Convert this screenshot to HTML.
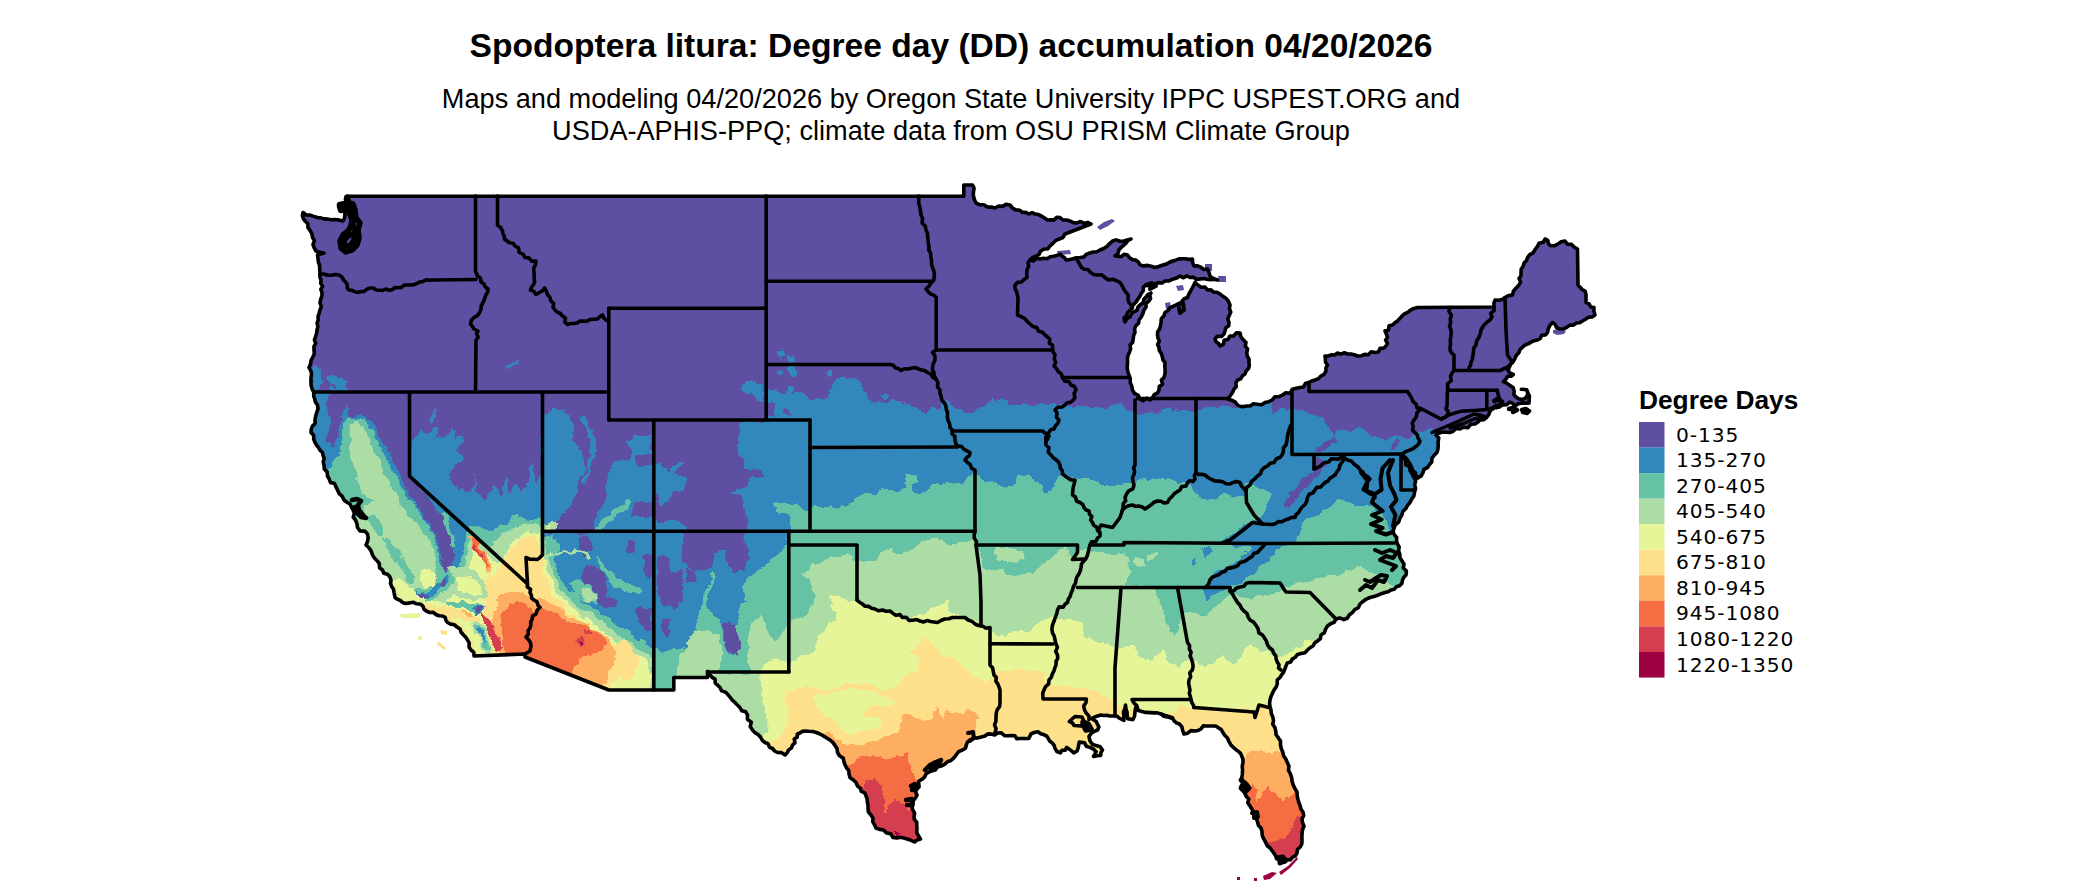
<!DOCTYPE html>
<html><head><meta charset="utf-8"><title>Spodoptera litura: Degree day (DD) accumulation 04/20/2026</title>
<style>
html,body{margin:0;padding:0;background:#fff;}
body{width:2100px;height:892px;overflow:hidden;position:relative;font-family:"Liberation Sans",sans-serif;}
svg{position:absolute;left:0;top:0;}
.t{font-family:"Liberation Sans",sans-serif;fill:#000;}
.l{font-family:"DejaVu Sans","Liberation Sans",sans-serif;fill:#000;}
</style></head><body>
<svg width="2100" height="892" viewBox="0 0 2100 892">
<rect width="2100" height="892" fill="#fff"/>

<defs><clipPath id="land">
<path d="M347,196.3 L963.8,196.3 L963.8,185 L972.5,185 L974.1,188 L973.6,191.4 L973.2,194.7 L973.9,197.9 L975,201 L976,203 L979.6,204.7 L983.7,204.8 L987.2,206.9 L991.2,207.1 L995,208 L998.5,206 L1002.5,206.4 L1006,204.4 L1010,205 L1012.5,208 L1015.6,209.9 L1019.6,210.2 L1022.5,212.5 L1025.7,212.3 L1028.7,214 L1032,212.7 L1035,214 L1038.5,214.6 L1041.7,216.2 L1044.6,218.1 L1047.5,220 L1050.7,219.7 L1054,220.1 L1056.7,217.3 L1060,217.5 L1062.9,220 L1066.6,220 L1070,221 L1073.3,222.7 L1076.9,222.9 L1080.6,221.5 L1083.9,223.4 L1087.7,222.4 L1091,224 L1065,234 L1062.9,237.6 L1059.2,239 L1055.5,240.6 L1052.9,243.4 L1050,246 L1047.7,248.8 L1043.7,249.2 L1040.7,251 L1039,254.6 L1035.8,256.1 L1032.6,257.7 L1030,260 L1033.5,260.9 L1036.6,258.2 L1040,259 L1043.4,258.3 L1047,258.7 L1050.1,256.8 L1053.5,256.3 L1056.9,255.6 L1060,254 L1062,256 L1064.4,257.6 L1066,260 L1069.5,259.6 L1073,258.8 L1076.4,257.7 L1080,257.5 L1083.8,257 L1086.5,254.1 L1090,253 L1093.3,252 L1096.9,251.8 L1100,250 L1103.7,248.5 L1106.9,246.5 L1109.6,243.6 L1112.5,241 L1116.1,239.9 L1120,241.2 L1123.7,241 L1127.4,240 L1131,239 L1128,240.5 L1126,243.2 L1123.5,245.4 L1121,247.5 L1118.8,250.2 L1117.9,253.8 L1115,256 L1118.2,256.3 L1121.3,256.6 L1124.3,254.2 L1127.5,255 L1129.5,257.6 L1132.1,259.5 L1135.7,260.1 L1138.3,261.9 L1140,265 L1143.7,265.9 L1147.6,265.4 L1151.3,266.3 L1155,267.5 L1158.6,266.5 L1162.2,265.3 L1165.8,264.3 L1169.1,262.5 L1172.5,261 L1175.8,260.2 L1179,258.9 L1182.4,258.8 L1185.7,258.7 L1189.2,259.4 L1192.5,259 L1192.6,262.6 L1194,266 L1197.6,265.9 L1200.8,267.2 L1203.8,269.5 L1207.5,269 L1209,272.4 L1210,276 L1212.2,277.9 L1214.8,279 L1217.5,280 L1214,279.3 L1210.5,279.7 L1207,279.3 L1203.5,278.6 L1200,279 L1196.5,279.5 L1193.5,277.1 L1190,277.5 L1186.8,275.9 L1183.1,277.8 L1180,276 L1176.5,278.1 L1172.7,279.2 L1169.1,280.9 L1165,281 L1162,283 L1158.2,282.6 L1155,284 L1152.1,285.5 L1149.1,286 L1146,285 L1143.3,287.1 L1143.3,290.6 L1141.4,293.2 L1140,296 L1138.1,298.7 L1136.4,301.5 L1134.1,304 L1132,306.5 L1130.8,309.9 L1127.8,312.1 L1126.6,315.6 L1124,318 L1125,322 L1126.7,318.7 L1130,317 L1131.3,314 L1133.8,311.8 L1137,310.3 L1138,307 L1140.2,304.7 L1143.1,302.9 L1143.8,299.3 L1146,297 L1148.1,294.4 L1151,293 L1149.7,295.5 L1150.6,298.6 L1149,301 L1146,303.3 L1146,307.2 L1144,310 L1142.9,313.6 L1141.3,317 L1139,320 L1138.6,323.3 L1135.8,325.9 L1134.6,328.9 L1135,332.5 L1133.6,335.6 L1133.2,339 L1132.6,342.4 L1130,345 L1130.6,349 L1129.3,352.6 L1127.7,356.2 L1127.5,360 L1127.5,363.8 L1127.2,367.6 L1127.7,371.3 L1129,375 L1130.3,378.6 L1130.2,382.6 L1131.8,386.2 L1132.5,390 L1134.5,393.4 L1138.2,395.4 L1140,399 L1143.2,400.8 L1146.8,398.2 L1150,400 L1152.5,397.7 L1154.2,394.7 L1157.4,393.1 L1159,390 L1159.3,386.5 L1162.6,384.2 L1161.4,380.1 L1164,377.5 L1165,373.8 L1165.1,370 L1164.8,366.3 L1165,362.5 L1162.9,359.9 L1162.3,356.6 L1161.3,353.6 L1159.4,350.8 L1159,347.5 L1157.6,344.5 L1159.3,341.1 L1158,338.1 L1157.5,335 L1157.7,331.7 L1159.6,328.9 L1160.5,325.7 L1161,322.5 L1161.3,318.8 L1163.9,315.9 L1165,312.5 L1167.9,310.8 L1169.8,307.8 L1172.9,306.4 L1176,305 L1179.5,304 L1181.9,301.4 L1184.2,298.7 L1187.5,297.5 L1188.9,294 L1190.7,290.8 L1192.5,287.5 L1195,282.5 L1197.8,284.9 L1200.7,287.2 L1205,287.1 L1207.5,290 L1211,289.9 L1213.6,292.2 L1217,292.3 L1219.9,293.8 L1222.5,296 L1225.9,298.2 L1228.4,301.2 L1230,305 L1229.4,308.5 L1230.8,312.1 L1229.2,315.5 L1227.8,318.9 L1229,322.5 L1228.7,325.8 L1225.8,327.9 L1225,331 L1224,334 L1221.5,336.5 L1217.3,336.2 L1215,339 L1216.1,341.7 L1218.6,343.5 L1220,346 L1223.3,344.3 L1224.2,340.2 L1228.2,339.2 L1230,336 L1233.6,336 L1236.3,332.9 L1240,333 L1240.9,336.8 L1243.3,339.8 L1246,342.5 L1245.3,346 L1247.6,349.1 L1246.8,352.6 L1247.2,356 L1249,359.1 L1249,362.5 L1249.3,365.8 L1248.4,368.7 L1246,371.1 L1245,374 L1242.4,375.9 L1240.7,378.9 L1237.5,380 L1235.9,383 L1236.2,386.7 L1233.8,389.4 L1232.5,392.5 L1230.2,395.7 L1228,399 L1231.6,400.2 L1235.1,401.9 L1237.5,405 L1240.5,406.5 L1243.7,406.6 L1246.9,406 L1250,406 L1253.4,403.8 L1257.5,404.3 L1261.6,404.7 L1265,402.5 L1268.8,401.7 L1272.2,400 L1275,396.7 L1279.1,396.7 L1282.5,395 L1285.7,392.8 L1290.1,393.3 L1292.4,389.2 L1296.2,388.2 L1300,387.5 L1303.5,387 L1305.5,383.5 L1308.7,382.5 L1311.7,381 L1315,380 L1318.5,378.6 L1320.9,376 L1324.1,374.3 L1326,371 L1325.9,367.8 L1327.5,365 L1325.5,362.3 L1325.4,359.1 L1325,356 L1328.3,356 L1331.3,354.8 L1334.7,355 L1337.5,353 L1340.7,354.1 L1344.4,352.8 L1347.6,354 L1351,354.1 L1354.3,354.8 L1357.5,356 L1361.1,355.8 L1364.5,354.4 L1368.2,354.7 L1371.2,351.8 L1375,352.5 L1378.4,351.9 L1380,348.4 L1383.6,348.3 L1386,346 L1387.5,343.3 L1385.6,340.1 L1387.5,337.5 L1386.4,334.2 L1385,331 L1388.4,330.1 L1389.1,325.8 L1392.5,325 L1394.9,322.8 L1397.5,321 L1399.8,318.6 L1401.9,316.1 L1404.4,313.9 L1407.5,312.5 L1410.5,310.2 L1413.8,308.4 L1417.5,307.5 L1494,307 L1493.9,303.4 L1495,300 L1498.6,300.3 L1502,299.6 L1505,297.5 L1508.5,295.6 L1512.5,295 L1513.5,290.9 L1516.2,288 L1519,285 L1520.6,282 L1519,278.6 L1521,275.7 L1521,272.5 L1521.2,269 L1523.2,266.3 L1524,263.1 L1526.5,260.6 L1527.5,257.5 L1529.7,254.6 L1533.1,252.8 L1535,249.6 L1537.3,246.7 L1539,243.3 L1543.2,242.3 L1545,239 L1547.8,240.3 L1548.3,243.3 L1550,245.5 L1554.2,245.8 L1557.8,244.1 L1561.1,241.7 L1565,241 L1567.4,244.1 L1571.6,244.4 L1574.2,247.2 L1577.5,249 L1578,285 L1580.2,287.2 L1582.2,289.5 L1585,291 L1586,294.8 L1586,298.6 L1586,302.5 L1588.9,303.7 L1590.7,306.9 L1594,307.5 L1593.8,311.3 L1595,315 L1592.1,316.9 L1588.4,317.3 L1585.5,319.2 L1582.5,321 L1579.6,322.7 L1576.3,323 L1573.5,325.1 L1570,325 L1567,327.1 L1563.8,328.8 L1560,329 L1556.7,327.8 L1555.2,324.4 L1552.5,322.5 L1549.9,325.4 L1548.3,328.7 L1547.5,332.5 L1545.5,335 L1541.7,335.2 L1540.3,338.5 L1537.5,340 L1534.2,340.7 L1531.1,342.2 L1528.2,343.8 L1525,345 L1522.6,347.1 L1520.1,349.3 L1519,352.5 L1516.3,355.5 L1514.6,359.2 L1512.5,362.5 L1509.8,364.7 L1509,368 L1508,370.5 L1510.2,373.1 L1513.3,374.5 L1511.1,376.3 L1507.7,376.3 L1506,379 L1503.4,381.7 L1506.7,383.2 L1509.7,385.2 L1513.1,387.5 L1514.2,391.5 L1513.8,394.6 L1516,396.9 L1518.7,398.7 L1522.4,399.6 L1525.8,397.8 L1528,394 L1526.7,389.7 L1521.3,389.3 L1526.7,389.7 L1528,392.9 L1529.4,396 L1529,403.2 L1522,403 L1518.2,403.8 L1515,405.9 L1512.7,403.5 L1509.7,402 L1507.1,404.6 L1503.4,405 L1499.6,404.6 L1496,406 L1493.3,408.6 L1490.1,410.9 L1488.8,414.7 L1486.4,417.5 L1483.9,419.7 L1480.3,420 L1477.8,422.2 L1475,424 L1470.9,424.2 L1467.9,427.8 L1463.6,427.2 L1460,429 L1456.1,428.5 L1452.9,431.4 L1449.2,432.5 L1445.3,432 L1441.6,432.3 L1438,433.5 L1436,435 L1438.8,438 L1438.1,441.6 L1438.2,445.3 L1438,449 L1436.9,452.5 L1434.3,455.2 L1432,458.1 L1431.7,462 L1429.5,464.6 L1427.6,467.5 L1424.1,469.1 L1423,472.6 L1421.1,476 L1417.8,478 L1416.2,475.4 L1415.1,472.4 L1412.5,470.5 L1411.6,467 L1409.9,463.9 L1408.1,460.9 L1406,458 L1402.5,455 L1404,458 L1405.6,461.1 L1405.7,464.9 L1409.8,466.7 L1410,470.5 L1412.1,473.9 L1413.9,477.4 L1415.7,481 L1414.7,484.6 L1415.6,488.4 L1414.6,492 L1413.9,495.9 L1411.7,499.1 L1410,502.5 L1407.6,505.4 L1405.8,508.7 L1402.9,511.3 L1401.8,515 L1399.9,518.3 L1398.7,522 L1395.6,524.5 L1394,528 L1393,532 L1394.5,534.9 L1396.7,537.5 L1396.5,541 L1397.6,544.1 L1399.2,547.1 L1398.5,550.6 L1399.7,553.7 L1400,557.6 L1401.9,560.8 L1404,564 L1403.3,567.9 L1406.4,571.1 L1406,575 L1403.7,577.4 L1402.5,580.3 L1401.8,583.5 L1399.5,585.8 L1396.4,586.8 L1394.2,589.2 L1391,590 L1388.2,591.8 L1385,592.5 L1381.2,593.7 L1377.6,595.3 L1373.9,596.6 L1370,597.5 L1366.3,599.1 L1363,601.4 L1360,604 L1358.4,607.6 L1354.8,609.5 L1352.5,612.5 L1349.4,614.7 L1347.5,618 L1343.8,619.7 L1339.8,617.9 L1336,619 L1334.1,622.4 L1330.5,623.8 L1327.5,626 L1325.6,629.2 L1324.3,632.8 L1321,635 L1320.4,638.6 L1317.5,641 L1314.7,642.9 L1313,646 L1310,647.7 L1307.5,650 L1304.9,652.7 L1301.1,653.5 L1297.5,654.5 L1295,657.5 L1292.2,659.1 L1290.8,662 L1287.3,662.9 L1286,666 L1284.9,669.1 L1283.6,672.1 L1281.7,674.7 L1280,677.5 L1277.2,680 L1277.3,683.9 L1276.1,687.1 L1274,690 L1272.5,693.3 L1271,696.5 L1270,700 L1269.6,703.4 L1270,706.7 L1271,710 L1271.3,713.6 L1272.8,716.9 L1273.5,720.5 L1272.7,724.3 L1274.9,727.5 L1275.7,731 L1276.1,734.8 L1278.4,737.9 L1280.5,741.1 L1280.5,745 L1281.3,748.7 L1282.8,752.1 L1283.6,755.7 L1285.8,759 L1287.3,762.6 L1288.9,766.1 L1288.5,770.4 L1290.4,773.8 L1291.6,777.5 L1292.1,781.4 L1293.3,785.1 L1295,788.6 L1297,792 L1297.2,795.6 L1297.8,799 L1298.8,802.4 L1300.1,805.6 L1300.9,809 L1303,812 L1303.7,815.5 L1302,819.1 L1302.6,822.6 L1304,826 L1302.6,829.5 L1302.1,833.1 L1301.9,836.7 L1302,840.4 L1301.8,844 L1300.2,847 L1297.5,849.4 L1297,853 L1295.3,855.8 L1292.3,857.4 L1290.4,860 L1287.1,859.4 L1284.6,862 L1281.4,862 L1278.3,859.9 L1276.4,856.9 L1274.4,853.9 L1272.3,851 L1270.1,848 L1267.1,845.5 L1265.5,842 L1263.6,838.7 L1262.2,835.3 L1262,831.5 L1261,828 L1258.5,825.5 L1257.6,822.2 L1256.5,819 L1253.9,816.1 L1253.5,812.1 L1251.7,808.7 L1249.7,805.5 L1247.8,802.8 L1248.8,799 L1246.3,796.5 L1244.8,793 L1245.6,788.9 L1243,785.7 L1242.8,781.9 L1241.7,778.3 L1242.3,774.4 L1242.6,770.4 L1242.2,766.4 L1243,762.5 L1243,759.2 L1241.8,756.3 L1240.6,753.4 L1238.4,751.4 L1236,749.7 L1233.8,747.8 L1231,745.1 L1229,741.7 L1227.5,738 L1224.7,735.3 L1222.9,732.5 L1221.3,729.6 L1218.4,727.8 L1215.7,726 L1206.6,726 L1203.1,725.9 L1201,729 L1198.2,730.4 L1195,731 L1190.9,730.6 L1187.7,733.2 L1184,734 L1182.7,730.6 L1181.9,726.9 L1179.4,724 L1176.4,722.8 L1174.1,720.9 L1172.6,718 L1169.7,717.1 L1166.5,716.8 L1163.5,716.2 L1161,714 L1157.4,712.9 L1153.7,712.9 L1150,712.6 L1145.6,712.4 L1142,711.6 L1138.4,710.6 L1136.6,705.5 L1135.4,708.7 L1135,712 L1134.6,715.9 L1133,719.6 L1127.6,718.7 L1127,712 L1125.9,708.6 L1125.5,705 L1125,708.6 L1123.5,712 L1124,720.5 L1119,718 L1116.9,716 L1109.7,716 L1106.7,715.2 L1103.7,715.5 L1100.7,715 L1097.6,715.9 L1094.6,717.2 L1091.7,718.5 L1096.2,721.4 L1097.4,724.2 L1098.9,726.8 L1097.6,730 L1094.4,731.3 L1091.1,733.4 L1089,736.6 L1090,741 L1092.4,744.3 L1096.2,745.6 L1100.1,746.7 L1102.5,750 L1100.9,752.5 L1100.7,755.5 L1097.1,755.7 L1093.5,756.4 L1096.2,751.9 L1093.5,749.1 L1090,747.4 L1086.4,746.3 L1084.6,742.9 L1079.2,742 L1078.3,747.4 L1077.1,751 L1073.8,752.8 L1071.5,750.9 L1069.1,749.1 L1066.6,747.4 L1065.3,750.1 L1061.9,750.4 L1060.4,752.8 L1056.9,751.5 L1055,748.3 L1054.1,745.2 L1052.1,742.9 L1049.6,741 L1048.3,738.5 L1046.8,736.2 L1044.2,734.8 L1040.8,733.8 L1037.9,731.7 L1034.2,732.5 L1030.8,734 L1029,738.4 L1020,738.5 L1016.8,738.8 L1014.9,735.8 L1012,735.5 L1008.2,735.8 L1004.5,735.6 L1001.3,732.9 L997.5,733 L994.7,735 L991.1,734.1 L987.8,733.9 L985,736 L981.2,736.9 L977.5,737.9 L973.5,738.2 L970,740 L967.5,742.1 L966.3,745 L965.5,748.3 L962.5,750 L958.6,751.6 L956.3,754.7 L953.9,757.9 L951,760.5 L947.4,761.7 L944.6,764.4 L941.2,766.1 L937.5,767 L935.3,769.9 L931.9,770.8 L928.8,772.1 L926,774 L924.5,777.2 L922,779.3 L919,781 L918.7,783.7 L919.1,786.7 L917,789 L915.6,791.8 L917,795.2 L915.5,798 L913.2,800.9 L913,804.6 L912,808 L913.2,810.7 L914.6,813.4 L914,816.5 L914.4,819.6 L916.8,822.2 L916.7,825.4 L917,828.5 L916.7,832.5 L918.4,835.8 L920.5,839 L917.2,839.9 L914.5,842 L912.1,840.8 L909.6,839.7 L907,839 L903.7,837.9 L900.4,837.2 L897,838 L893,837.4 L890.5,833.6 L886.5,833 L883.6,830 L879.6,829.4 L876,828 L874.5,824.8 L872.7,821.7 L873,818 L870.9,814.9 L868.4,812 L868,808 L868,804.9 L867.3,802 L867.2,798.9 L866,796 L864.7,792.8 L861.3,791.4 L860.2,788 L857.5,786 L856,782.6 L853.4,779.9 L850.1,777.8 L849,774 L848.8,770.6 L846.6,767.9 L845.2,765 L844,762 L843.2,758.1 L839.5,755.8 L837.5,752.5 L837,748.5 L835,745.4 L832.8,742.4 L830,740 L826.7,737.9 L823.4,735.9 L820,734 L816.4,732.5 L812.7,731.5 L808.8,731.3 L805,731 L802.2,731.4 L800,733 L797.5,734 L797.2,737.2 L794.2,739.1 L795,742.8 L792.5,745 L791.4,748.1 L788.6,749.9 L787.2,752.7 L785,755 L781.6,752.6 L777.5,752.5 L774.6,751 L772.5,748.5 L769.4,747.2 L768.1,743.7 L765,742.5 L762.2,740.3 L760.5,737 L758,734.5 L754.9,732.6 L752.5,730 L750.2,726.6 L751.3,722.1 L747.4,719.2 L747.5,715 L745.7,711.8 L741.8,710.7 L739.9,707.6 L737.4,705.1 L735,702.5 L732.3,700.2 L730.2,697.3 L727.9,694.6 L725.4,692.1 L721.6,690.9 L720,687.5 L717.7,685.2 L715.3,683.1 L715.1,679.1 L712.1,677.4 L710,675 L707.5,671.5 L707.5,677.5 L673.8,677.5 L673.8,690 L608.8,690 L525,657 L525,654 L474,656 L473.8,652.3 L471,650 L469,647 L469.2,643.1 L467.5,640 L465.7,637.2 L463.3,634.8 L461.1,632.3 L460,629 L457,627.1 L454.3,624.7 L450.6,624.1 L447.5,622.5 L445.9,620.3 L445.2,617.4 L442.5,616 L439.2,615.8 L436.1,614.7 L433.4,612.3 L430,612.5 L426.7,611.3 L424.1,609.3 L422.8,605.8 L420,604 L416.5,603.8 L413.1,602.2 L409.5,602.9 L405.9,603.5 L402.5,602.5 L400.3,600.4 L397.4,599.3 L395,597.5 L394,592.5 L393.6,589.3 L391.6,586.5 L390.5,583.4 L391,580 L389.8,576.7 L387.5,574.3 L383.8,573.2 L382.5,570 L379.5,567.7 L379.3,563.5 L377,560.7 L374.4,558.1 L372.5,555 L371.2,551.1 L369,547.8 L366,545 L367.5,541.5 L368.2,537.8 L367.5,534 L364.7,531.1 L360,530.9 L357.5,527.5 L356.9,523.6 L355.5,520 L353.2,517.2 L354.4,513.2 L353.1,510.1 L351.4,507.1 L350,504 L346.9,502.2 L344,500 L342.3,496.4 L339.2,493.7 L337.5,490 L336,486.9 L334.6,483.6 L330.4,482.4 L329.2,479 L327.5,476 L327.2,472.1 L324.3,469 L324,465 L323.2,461.9 L324.2,458.6 L323.1,455.6 L322.5,452.5 L320.1,450.4 L318.5,447.7 L316.5,445.2 L315,442.5 L313.7,439.2 L313.7,435.3 L311,432.5 L311.3,429.1 L312.5,426.1 L315.1,423.5 L315,420 L315.6,416.2 L316.7,412.6 L318,408.9 L317.5,405 L315.4,402.2 L314.7,399 L313.7,395.9 L313.8,392.5 L312.1,388.9 L311.1,385.2 L310.9,381.4 L311,377.5 L311.6,373.9 L310.8,370.6 L309,367.5 L310.5,364.2 L311,360.5 L312.7,357.2 L314.3,353.9 L314,350 L313.9,346.6 L315.7,343.4 L314.4,339.8 L315.6,336.6 L316.6,333.3 L317,330 L317.9,326.7 L317.1,323.2 L318.2,320 L318,316.5 L319.1,313.3 L320,310 L321.3,306.6 L320,302.9 L320.7,299.4 L321.9,296 L322,292.5 L320.8,289.4 L322.6,286.2 L320.7,283.2 L321,280 L319.9,277.1 L320,274 L319.5,265 L318.3,261.8 L318,258.4 L317.5,255 L320.7,253.9 L324,253 L321.3,252.6 L318.6,251.9 L316,251 L314.2,247.9 L313,244.6 L314.4,240.6 L312.5,237.5 L311.9,233.8 L310.2,230.6 L308,227.6 L307.8,223.7 L305,221 L303.3,218.4 L302.4,215.6 L303,212.5 L306.2,215 L310.2,215.1 L313.8,216.4 L317.4,217.5 L320.8,217.9 L324.1,218.9 L327.4,219.1 L330.8,219.8 L334.2,219.5 L337.6,219.8 L343,221 L344.5,218.2 L344.8,215.1 L345,212 L343.8,208.4 L341,206 L344,204.6 L346,202 L345.4,199Z"/>
</clipPath><filter id="rough" filterUnits="userSpaceOnUse" x="240" y="150" width="1420" height="742" color-interpolation-filters="sRGB"><feTurbulence type="fractalNoise" baseFrequency="0.09" numOctaves="3" seed="7" result="n"/><feDisplacementMap in="SourceGraphic" in2="n" scale="9" xChannelSelector="R" yChannelSelector="G"/></filter></defs>
<g clip-path="url(#land)"><g filter="url(#rough)" shape-rendering="crispEdges">
<rect x="200" y="100" width="1500" height="800" fill="#5E4FA2"/>
<path d="M250,392 L352,392 L346,405 L348,417 L360,416 L370,420 L377,431 L386,448 L395,463 L402,478 L411,495 L420,510 L428,523 L436,535 L441,550 L445,563 L447,574 L456,560 L453,545 L447,530 L441,514 L425,496 L411,478 L411,450 L413,438 L420,430 L428,433 L433,427 L440,430 L438,440 L446,436 L452,427 L456,430 L452,440 L460,436 L464,440 L458,450 L462,458 L455,466 L450,474 L454,486 L463,490 L472,493 L473.5,476 L476,492 L484,500 L490,490 L495,487 L500,497 L506,477 L509,493 L516.6,482.5 L520,492 L525.6,486 L532.7,461 L536,485 L541.7,472 L543,413 L553,409 L571,413 L573,440 L585,456 L583,472 L578,488 L571,502 L562,517 L553,524 L548,533 L594,533 L596,520 L600,508 L608,497 L607,480 L612,465 L620,460 L630,462 L632,450 L628,440 L636,436 L651,436 L653,454 L636,455 L637,466 L653,466 L656,462 L668,470 L679,461 L681,464 L672,473 L687,478 L686,490 L672,492 L667,503 L658,504 L656,492 L653,495 L653,503 L633,503 L632,517 L653,517 L655,521 L680,521 L687,531 L681,545 L682,560 L690,569 L705,570 L714,566 L715,552 L724,551 L726,566 L733,573 L745,572 L748,560 L745,539 L746.6,530 L748.4,521 L744.8,510.4 L743,499.7 L730.5,492.5 L746.6,487 L748.4,478 L762.8,476.4 L761,471 L744.8,467.4 L737.7,445.9 L737.7,424.3 L737.5,422 L766,421 L766,417 L775,417 L775,404 L767,403 L767,389 L776,390 L785,393.5 L789,386 L793.5,387 L792.5,392.5 L802.5,392.5 L809.5,400.5 L818.5,398.5 L826.5,399.5 L829,390 L834.5,382.5 L842.5,376.5 L854,379 L861,382.5 L862,387 L869,393.5 L870,398.5 L878,403 L890.5,400.5 L903,403 L912.5,405 L919.5,411 L926,413 L930.5,408.5 L940,407.5 L942,400.5 L947,399.3 L958.6,409.3 L970,413.6 L977,408 L990,402 L1004.3,398.6 L1014.3,405 L1028.6,407 L1040,404.3 L1054.3,403.6 L1068.6,405.7 L1077,404.3 L1090,407 L1104.3,407 L1118.6,403.6 L1125.7,409.3 L1134.3,412 L1145.7,416.4 L1157,410.7 L1165.7,408.6 L1183,411.4 L1197,410.7 L1208.6,408.6 L1220,406.4 L1233,405.7 L1240,407 L1245,400 L1265,395 L1272,398 L1274,414 L1280,408 L1286,412 L1292,406 L1294,407.7 L1308,414 L1321.8,417.3 L1329.2,422.6 L1332.4,432.2 L1334.5,437.5 L1338.8,432 L1345,430 L1358,428 L1366.5,432 L1377,436.4 L1385.7,440.7 L1393,436.4 L1401.6,437.5 L1411,437.5 L1419.7,433 L1426,428 L1432.5,427 L1434,429 L1445,445 L1700,445 L1700,900 L250,900Z" fill="#3288BD"/>
<path d="M330,392 L352,392 L346,405 L342,417 L338,432 L334,448 L328,440 L330,420 L326,405Z" fill="#5E4FA2"/>
<path d="M578,536 L588,534 L591,548 L586,558 L580,552Z" fill="#5E4FA2"/>
<path d="M583,566 L592,564 L600,570 L606,580 L606,594 L612,598 L619,604 L614,608 L602,606 L594,598 L586,588 L582,576Z" fill="#5E4FA2"/>
<path d="M626,541 L636,541 L637,552 L628,553Z" fill="#5E4FA2"/>
<path d="M642,555 L652,556 L652,577 L645,575Z" fill="#5E4FA2"/>
<path d="M635,610 L645,608 L653,610 L653,632 L644,630 L637,622Z" fill="#5E4FA2"/>
<path d="M657,556 L662,553 L668,560 L672,570 L682,572 L683,590 L680,604 L672,610 L664,606 L659,596 L657,580Z" fill="#5E4FA2"/>
<path d="M685,570 L694,570 L695,580 L687,583Z" fill="#5E4FA2"/>
<path d="M661,620 L670,620 L672,634 L664,638 L661,630Z" fill="#5E4FA2"/>
<path d="M723,622 L735,624 L740,640 L738,655 L728,652 L724,638Z" fill="#5E4FA2"/>
<path d="M1285,503 L1292,492 L1302,480 L1312,470 L1320,466 L1321,470 L1312,480 L1302,492 L1292,503 L1286,507Z" fill="#5E4FA2"/>
<path d="M1317,452 L1324,442 L1332,437 L1335,440 L1328,447 L1321,454Z" fill="#5E4FA2"/>
<path d="M1391,450 L1395,441 L1399,441 L1396,450Z" fill="#5E4FA2"/>
<path d="M1313,458 L1322,458 L1326,466 L1320,474 L1314,470Z" fill="#5E4FA2"/>
<path d="M311,367 L316,365 L320,370 L322,380 L318,392 L312,392Z" fill="#3288BD"/>
<path d="M326,378 L334,374 L342,378 L348,384 L340,388 L332,386Z" fill="#3288BD"/>
<path d="M330,388 L345,386 L352,392 L330,392Z" fill="#3288BD"/>
<path d="M580,418 L584,416 L597,438 L594,455 L590,470 L586,486 L582,484 L586,468 L590,452 L591,440Z" fill="#3288BD"/>
<path d="M428,420 L432,412 L438,409 L436,416 L432,424Z" fill="#3288BD"/>
<path d="M507,364 L517,363 L517,366 L508,367Z" fill="#3288BD"/>
<path d="M740,390 L745,383 L755,383 L762,386 L765,400 L758,400 L750,394 L744,392Z" fill="#3288BD"/>
<path d="M829,371 L833,371 L833,376 L829,376Z" fill="#3288BD"/>
<path d="M880,394 L886,392 L889,397 L884,400Z" fill="#3288BD"/>
<path d="M783,410 L789,410 L789,415 L783,415Z" fill="#5E4FA2"/>
<path d="M777,352 L782,350 L784,355 L779,357Z" fill="#3288BD"/>
<path d="M786,356 L795,354 L797,360 L790,362Z" fill="#3288BD"/>
<path d="M779,370 L784,368 L785,374 L780,375Z" fill="#3288BD"/>
<path d="M788,366 L794,365 L795,374 L789,375Z" fill="#3288BD"/>
<path d="M250,470 L327,470 L332,465 L340,450 L342,430 L347,417 L365,420 L374,433 L383,451 L392,468 L399,481 L411,501 L423,518 L433,533 L438,550 L441,565 L446,578 L458,572 L462,555 L466,535 L468,524 L480.7,527 L493,532.7 L500,525.6 L507.6,522 L516.6,513 L525.6,522 L536,518 L541.7,522 L543,535 L548.7,541 L556,566 L565,587 L579,598 L595,607 L610,620 L624,630 L642,641 L653,647 L655,648 L667,652 L685,645 L693,640 L697,625 L700,607 L708,590 L712,571 L714.6,573 L711,589 L707.4,607 L712.8,616 L721.7,623 L723.5,637.6 L727,653.8 L737.9,655.6 L739.7,641 L736,627 L737.9,614 L745,601.7 L741.5,587.4 L750,576.6 L764.8,566 L775.6,557 L787,546 L789,533 L791.5,528 L790,516 L777,512 L773.5,503 L784.3,501.5 L797,505 L807.6,510.4 L817,506.4 L837,508 L851.4,505 L855.7,496.4 L873,492 L884.3,489.3 L897,493.6 L905.7,486.4 L904.3,473.6 L917,473.6 L920,480.7 L913,486 L911.4,492 L925.7,493.6 L931.4,485 L944.3,482 L958.6,483.6 L971.4,476.4 L977,473.6 L985.7,479.3 L1003,486.4 L1015.7,483.6 L1018.6,475 L1028.6,475 L1037,483.6 L1045.7,492 L1051.4,488 L1057,479.3 L1064.3,475 L1077,479.3 L1088.6,479.3 L1103,485 L1114.3,486.4 L1124.3,483.6 L1135.7,482 L1145.7,478 L1160,480.7 L1174.3,476.4 L1180,482 L1188.6,485 L1194.3,490.7 L1203,498 L1214.3,499.3 L1224.3,495 L1234.3,498 L1243,495 L1245.6,483.5 L1260.7,486.9 L1270.8,495 L1267.5,507 L1260.7,517 L1254,518.8 L1244,525.6 L1235.5,534 L1222,540.7 L1213.6,544 L1235,545 L1250.7,549 L1238.9,559 L1227,567.6 L1213.6,576 L1207,582.8 L1201.9,589.5 L1205,599.6 L1213.6,596 L1222,589.5 L1230.5,584.4 L1244,581 L1254,574 L1264,564 L1270.8,555.8 L1281,549 L1294.4,542.4 L1301,532 L1304.5,522 L1314.6,517 L1328,508.7 L1338,500 L1348,502 L1360,505 L1365,505 L1375,510 L1383,515 L1390,532 L1420,532 L1700,532 L1700,900 L250,900Z" fill="#66C2A5"/>
<path d="M441,560 L451,560 L452,574 L444,573Z" fill="#5E4FA2"/>
<path d="M594,529 L602,520 L612,512 L622,505 L628,501 L631,505 L624,511 L614,518 L604,527 L598,532Z" fill="#66C2A5"/>
<path d="M597,557 L606,566 L617,578 L629,582 L642,591 L638,596 L624,591 L610,582 L601,570Z" fill="#66C2A5"/>
<path d="M569,583 L578,580 L590,586 L598,596 L594,603 L584,600 L574,594Z" fill="#66C2A5"/>
<path d="M543,536 L552,534 L558,545 L556,560 L550,565 L544,560Z" fill="#66C2A5"/>
<path d="M350,436 L352,428 L353.8,421 L358,420 L364.6,428 L371.7,444 L377,456.7 L382.5,469.3 L389.7,485.4 L396.9,496.2 L405.8,510.6 L416.6,525 L429,539 L434,552 L437,565 L432.5,575 L427,582 L440,590 L455,592 L460,580 L465,565 L468,548 L472,535 L480,540 L492,548 L500,536 L511,529 L522,525.6 L532.7,524 L541,526 L543,533 L546,548 L552,570 L561,590 L576,604 L592,613 L607,626 L621,637 L638,648 L652,655 L654,692 L678,692 L678.7,656 L686,645 L693,634 L698,630 L709,630 L716,634 L722,647 L722,659 L718,673 L750,673 L748,650 L750,625 L761,616 L768,630 L776,641 L786,630 L791.4,619.6 L806.7,612 L814,602 L810.5,579.6 L799,574 L814,564 L829.6,558.6 L844.8,554.8 L854.4,558.6 L875,560.5 L886.8,549 L902,554.8 L913.5,551 L921,541.4 L940,539.5 L951.6,545 L963,541.4 L974.5,539.5 L980,550 L980,563 L984,570 L1000,570 L1016,575.3 L1032,572.7 L1042.7,564.7 L1053.3,556.7 L1058.7,550 L1066,548 L1068,558 L1076,558 L1078,548 L1090,547 L1092,552.7 L1122.7,554 L1130.7,562 L1128,574 L1125.3,584.7 L1140,586 L1155,587 L1160,600 L1165,620 L1172,637 L1180,630 L1182,612 L1190,612 L1205,615 L1215,608 L1225,600 L1232,595 L1245,597 L1262,596 L1280,590 L1300,582.5 L1317.5,579 L1335,575 L1350,570 L1362.5,566 L1375,572.5 L1390,585 L1400,586 L1420,586 L1700,586 L1700,900 L250,900 L250,520 L357,520 L366,508 L371.7,501.6 L362.8,492.6 L357.4,482 L353.8,471 L352,460 L350,444Z" fill="#ABDDA4"/>
<path d="M700,900 L757,745 L765,735 L770,725 L765,715 L762,700 L760,680 L758,672 L762,665 L775,660 L790,662 L797,657 L815,652 L820,637 L825,627 L835,620 L832,605 L830,595 L840,597 L855,602 L865,607 L890,612 L907,617 L925,612 L940,605 L950,600 L950,610 L962,617 L980,622 L990,630 L1002,635 L1015,632 L1030,630 L1040,620 L1052,615 L1057.3,619.3 L1073.3,619.3 L1084,624.7 L1084,632.7 L1096,642 L1113.3,646 L1122.7,648.7 L1133.3,644.7 L1140,658 L1150.7,660.7 L1162.7,651.3 L1170.7,662 L1177.3,667.3 L1186.7,662 L1194.7,658 L1204,667.3 L1213.3,662 L1224,655.3 L1233.3,663.3 L1240,655.3 L1248,644.7 L1258.7,650 L1269.3,654 L1277.3,656.7 L1286.7,655.3 L1298.7,647.3 L1306.7,642 L1320,640 L1700,645 L1700,900Z" fill="#E6F598"/>
<path d="M390,598 L400,594 L412,598 L430,600 L445,603 L455,595 L465,580 L472,560 L475,545 L485,552 L497,565 L507,550 L515,537 L527,532 L541,535 L543,552 L548,572 L556,592 L571,607 L587,618 L602,630 L616,642 L632,653 L648,662 L652,675 L648,692 L600,700 L470,665 L380,610Z" fill="#E6F598"/>
<path d="M543,524 L552,521 L560,524 L556,531 L543,531Z" fill="#ABDDA4"/>
<path d="M543,527 L550,525 L553,531 L543,531Z" fill="#E6F598"/>
<path d="M760,900 L765,748 L770,742 L780,738 L787,728 L790,715 L785,700 L787.3,690 L804.8,687 L820,690 L838,688 L845.6,684 L867.5,684 L885,690 L896.6,688.3 L901,679.6 L914,673.7 L920,659 L911,652 L920,641.7 L927,635.8 L934.5,647.5 L943,657.7 L955,657.7 L963.6,668 L975.3,678 L988.4,682.5 L994,670.8 L1006,669.4 L1027.8,670.8 L1042.4,672.3 L1045,680 L1052,687 L1065,686 L1077,688 L1090,690 L1102,694 L1112,700 L1118,707 L1125,710 L1140,711 L1160,711 L1172,714 L1180,705 L1195,710 L1215,710 L1227,712 L1240,708 L1252,710 L1260,708 L1275,705 L1700,705 L1700,900Z" fill="#FEE08B"/>
<path d="M415,600 L430,606 L445,612 L455,622 L465,632 L472,645 L480,655 L470,660 L455,635 L440,620 L420,610Z" fill="#FEE08B"/>
<path d="M488,572 L496,580 L500,565 L512,545 L520,537 L535,535 L541,545 L543,566 L547,584 L554,598 L569,612 L585,623 L600,634 L612,645 L622,655 L622,670 L615,680 L607,690 L560,675 L525,660 L495,655 L490,640 L486,622 L484,608 L486,596Z" fill="#FEE08B"/>
<path d="M612,645 L625,640 L637,655 L636,675 L625,682 L614,670Z" fill="#FEE08B"/>
<path d="M813.5,694 L838.3,691 L861.6,688.3 L882,694 L895,701.4 L882,705.8 L867.5,708.7 L861.6,716 L880.6,717.5 L879,726 L861.6,732 L848.5,735 L838.3,723.3 L823.7,716 L816.4,705.8Z" fill="#E6F598"/>
<path d="M830,900 L795,748 L794.6,735 L805,733 L822,734 L828,732 L841,743.7 L855.8,745 L874.7,742 L890.8,735 L901,729 L901,716 L911,714.5 L922.8,720.4 L933,717.5 L934.5,708.7 L943,717.5 L947.6,710 L962,714.5 L968,708.7 L975.3,711.6 L978,717.5 L973.8,726 L975.3,732 L972,742 L1000,760 L1000,900Z" fill="#FDAE61"/>
<path d="M1230,900 L1240,757 L1244,758 L1252,751 L1263,749 L1272,753 L1277,749 L1283,753 L1300,753 L1320,900Z" fill="#FDAE61"/>
<path d="M497,600 L505,592 L515,590 L525,594 L532,600 L542,598 L556,606 L570,616 L585,622 L600,632 L610,642 L616,652 L614,664 L608,674 L603,690 L560,675 L525,660 L500,655 L495,640 L493,620Z" fill="#FDAE61"/>
<path d="M468,535 L474,535 L484,550 L493,568 L488,572 L478,555Z" fill="#FDAE61"/>
<path d="M840,900 L847,770 L849,769 L854,760 L871,755 L883,759 L897,757 L907,753 L910,764 L914,774 L917,781 L930,790 L930,900Z" fill="#F46D43"/>
<path d="M1240,900 L1245,790 L1247,790 L1254,785 L1259,790 L1256,801 L1263,796 L1268,785 L1273,794 L1283,801 L1290,796 L1295,790 L1310,790 L1320,900Z" fill="#F46D43"/>
<path d="M503,612 L510,602 L520,600 L528,606 L533,612 L542,608 L556,614 L570,624 L590,626 L602,636 L606,646 L596,653 L580,658 L572,672 L560,675 L525,660 L505,655 L502,640 L500,625Z" fill="#F46D43"/>
<path d="M471,540 L476,540 L486,555 L490,567 L486,568 L478,553Z" fill="#F46D43"/>
<path d="M860,792 L862,789 L866,782 L874,780 L883,786 L886,793 L883,803 L885,815 L888,805 L895,799 L903,803 L909,808 L915,815 L925,850 L870,850Z" fill="#D53E4F"/>
<path d="M1266,845 L1268,842 L1279,839 L1288,835 L1295,826 L1299,817 L1310,815 L1310,870 L1270,870Z" fill="#D53E4F"/>
<path d="M483,612 L490,618 L497,632 L502,648 L497,652 L490,638 L484,624Z" fill="#D53E4F"/>
<path d="M474,545 L477,545 L484,558 L481,559Z" fill="#D53E4F"/>
<path d="M893,830 L898,830 L899,835 L894,836Z" fill="#9E0142"/>
<path d="M577,638 L584,637 L585,644 L578,645Z" fill="#D53E4F"/>
<path d="M583,629 L591,628 L592,634 L584,635Z" fill="#D53E4F"/>
<path d="M580,640 L583,640 L583,643 L580,643Z" fill="#9E0142"/>
<path d="M447,568 L460,566 L472,570 L486,580 L488,596 L476,600 L460,598 L448,596Z" fill="#ABDDA4"/>
<path d="M455,578 L468,576 L480,584 L482,594 L468,594 L457,590Z" fill="#E6F598"/>
<path d="M448,572 L454,578 L445,592 L432,600 L419,604 L408,600 L408,590 L419,590 L430,586 L440,578Z" fill="#66C2A5"/>
<path d="M446,575 L450,578 L442,588 L431,596 L420,600 L411,597 L412,592 L420,594 L430,590 L439,583Z" fill="#3288BD"/>
<path d="M443,578 L447,579 L443,585 L440,584Z" fill="#5E4FA2"/>
<path d="M419,594 L426,594 L425,598 L419,598Z" fill="#5E4FA2"/>
<path d="M419,572 L430,570 L437,576 L435,586 L425,586 L419,580Z" fill="#E6F598"/>
<path d="M440,513 L444,513 L455,545 L452,548Z" fill="#66C2A5"/>
<path d="M447,601 L460,600 L476,603 L484,608 L482,614 L472,610 L458,606 L447,606Z" fill="#66C2A5"/>
<path d="M472,606 L482,606 L484,613 L476,614Z" fill="#3288BD"/>
<path d="M475,607 L481,607 L482,612 L477,612Z" fill="#5E4FA2"/>
<path d="M426,606 L440,607 L455,608 L470,612 L480,618 L478,626 L468,622 L456,618 L442,616 L430,612Z" fill="#FEE08B"/>
<path d="M462,611 L472,612 L473,617 L463,616Z" fill="#FDAE61"/>
<path d="M470,624 L478,622 L486,630 L491,645 L492,654 L484,655 L480,640 L474,630Z" fill="#ABDDA4"/>
<path d="M474,626 L480,626 L487,638 L490,650 L486,652 L482,640Z" fill="#66C2A5"/>
<path d="M477,630 L481,630 L486,642 L484,644Z" fill="#3288BD"/>
<path d="M368,516 L375,513 L381,520 L383,531 L378,535 L372,530 L369,523Z" fill="#66C2A5"/>
<path d="M383,536 L388,538 L398,552 L408,568 L415,582 L410,584 L402,570 L392,555 L384,542Z" fill="#66C2A5"/>
<path d="M393,580 L400,578 L412,590 L424,600 L426,606 L414,604 L402,598 L394,590Z" fill="#E6F598"/>
<path d="M581,588 L590,588 L597,598 L590,602 L583,597Z" fill="#ABDDA4"/>
<path d="M543,557 L555,552 L565,549 L578,549 L592,556 L591,558 L578,551.5 L565,551.5 L556,554.5 L544,560Z" fill="#ABDDA4"/>
<path d="M709,631 L716,634 L721,647 L721,660 L716,664 L711,650Z" fill="#ABDDA4"/>
<path d="M1202,548 L1209,546 L1211,552 L1205,556Z" fill="#3288BD"/>
<path d="M1190,560 L1194,556 L1196,562 L1192,566Z" fill="#3288BD"/>
<path d="M995,549 L1010,548 L1024,550 L1024,560 L1010,563 L996,560Z" fill="#ABDDA4"/>
<path d="M1135,557 L1146,557 L1146,566 L1136,566Z" fill="#ABDDA4"/>
<path d="M1148,553 L1156,553 L1156,558 L1148,558Z" fill="#ABDDA4"/>
</g></g>
<path d="M1553,330 L1560,329 L1566,331 L1564,334 L1557,335 L1553,333Z" fill="#5E4FA2"/>
<path d="M1205,264 L1212,264 L1212,271 L1205,271Z" fill="#5E4FA2"/>
<path d="M1097,227 L1104,222 L1112,219 L1115,221 L1108,226 L1100,230Z" fill="#5E4FA2"/>
<path d="M1176,286 L1183,285 L1184,290 L1178,291Z" fill="#5E4FA2"/>
<path d="M1165,303 L1170,302 L1171,308 L1166,309Z" fill="#5E4FA2"/>
<path d="M1218,276 L1226,276 L1226,282 L1219,282Z" fill="#5E4FA2"/>
<path d="M1057,251 L1070,250 L1071,254 L1058,255Z" fill="#5E4FA2"/>
<path d="M400,614 L420,613 L420,618 L401,618Z" fill="#E6F598"/>
<path d="M440,630 L447,631 L447,635 L441,634Z" fill="#FEE08B"/>
<path d="M438,641 L446,648 L444,650 L437,644Z" fill="#FEE08B"/>
<path d="M418,636 L422,636 L422,640 L418,640Z" fill="#E6F598"/>
<path d="M1263,876 L1272,872 L1277,873 L1270,879 L1264,880Z" fill="#9E0142"/>
<path d="M1279,872 L1288,866 L1297,857 L1298,859 L1290,868 L1281,875Z" fill="#9E0142"/>
<path d="M1237,877 L1240,877 L1240,880 L1237,880Z" fill="#9E0142"/>
<path d="M1254,878 L1257,878 L1257,881 L1254,881Z" fill="#9E0142"/>
<g fill="none" stroke="#000" stroke-width="3.6" stroke-linejoin="round" stroke-linecap="round">
<path d="M347,196.3 L963.8,196.3 L963.8,185 L972.5,185 L974.1,188 L973.6,191.4 L973.2,194.7 L973.9,197.9 L975,201 L976,203 L979.6,204.7 L983.7,204.8 L987.2,206.9 L991.2,207.1 L995,208 L998.5,206 L1002.5,206.4 L1006,204.4 L1010,205 L1012.5,208 L1015.6,209.9 L1019.6,210.2 L1022.5,212.5 L1025.7,212.3 L1028.7,214 L1032,212.7 L1035,214 L1038.5,214.6 L1041.7,216.2 L1044.6,218.1 L1047.5,220 L1050.7,219.7 L1054,220.1 L1056.7,217.3 L1060,217.5 L1062.9,220 L1066.6,220 L1070,221 L1073.3,222.7 L1076.9,222.9 L1080.6,221.5 L1083.9,223.4 L1087.7,222.4 L1091,224 L1065,234 L1062.9,237.6 L1059.2,239 L1055.5,240.6 L1052.9,243.4 L1050,246 L1047.7,248.8 L1043.7,249.2 L1040.7,251 L1039,254.6 L1035.8,256.1 L1032.6,257.7 L1030,260 L1033.5,260.9 L1036.6,258.2 L1040,259 L1043.4,258.3 L1047,258.7 L1050.1,256.8 L1053.5,256.3 L1056.9,255.6 L1060,254 L1062,256 L1064.4,257.6 L1066,260 L1069.5,259.6 L1073,258.8 L1076.4,257.7 L1080,257.5 L1083.8,257 L1086.5,254.1 L1090,253 L1093.3,252 L1096.9,251.8 L1100,250 L1103.7,248.5 L1106.9,246.5 L1109.6,243.6 L1112.5,241 L1116.1,239.9 L1120,241.2 L1123.7,241 L1127.4,240 L1131,239 L1128,240.5 L1126,243.2 L1123.5,245.4 L1121,247.5 L1118.8,250.2 L1117.9,253.8 L1115,256 L1118.2,256.3 L1121.3,256.6 L1124.3,254.2 L1127.5,255 L1129.5,257.6 L1132.1,259.5 L1135.7,260.1 L1138.3,261.9 L1140,265 L1143.7,265.9 L1147.6,265.4 L1151.3,266.3 L1155,267.5 L1158.6,266.5 L1162.2,265.3 L1165.8,264.3 L1169.1,262.5 L1172.5,261 L1175.8,260.2 L1179,258.9 L1182.4,258.8 L1185.7,258.7 L1189.2,259.4 L1192.5,259 L1192.6,262.6 L1194,266 L1197.6,265.9 L1200.8,267.2 L1203.8,269.5 L1207.5,269 L1209,272.4 L1210,276 L1212.2,277.9 L1214.8,279 L1217.5,280 L1214,279.3 L1210.5,279.7 L1207,279.3 L1203.5,278.6 L1200,279 L1196.5,279.5 L1193.5,277.1 L1190,277.5 L1186.8,275.9 L1183.1,277.8 L1180,276 L1176.5,278.1 L1172.7,279.2 L1169.1,280.9 L1165,281 L1162,283 L1158.2,282.6 L1155,284 L1152.1,285.5 L1149.1,286 L1146,285 L1143.3,287.1 L1143.3,290.6 L1141.4,293.2 L1140,296 L1138.1,298.7 L1136.4,301.5 L1134.1,304 L1132,306.5 L1130.8,309.9 L1127.8,312.1 L1126.6,315.6 L1124,318 L1125,322 L1126.7,318.7 L1130,317 L1131.3,314 L1133.8,311.8 L1137,310.3 L1138,307 L1140.2,304.7 L1143.1,302.9 L1143.8,299.3 L1146,297 L1148.1,294.4 L1151,293 L1149.7,295.5 L1150.6,298.6 L1149,301 L1146,303.3 L1146,307.2 L1144,310 L1142.9,313.6 L1141.3,317 L1139,320 L1138.6,323.3 L1135.8,325.9 L1134.6,328.9 L1135,332.5 L1133.6,335.6 L1133.2,339 L1132.6,342.4 L1130,345 L1130.6,349 L1129.3,352.6 L1127.7,356.2 L1127.5,360 L1127.5,363.8 L1127.2,367.6 L1127.7,371.3 L1129,375 L1130.3,378.6 L1130.2,382.6 L1131.8,386.2 L1132.5,390 L1134.5,393.4 L1138.2,395.4 L1140,399 L1143.2,400.8 L1146.8,398.2 L1150,400 L1152.5,397.7 L1154.2,394.7 L1157.4,393.1 L1159,390 L1159.3,386.5 L1162.6,384.2 L1161.4,380.1 L1164,377.5 L1165,373.8 L1165.1,370 L1164.8,366.3 L1165,362.5 L1162.9,359.9 L1162.3,356.6 L1161.3,353.6 L1159.4,350.8 L1159,347.5 L1157.6,344.5 L1159.3,341.1 L1158,338.1 L1157.5,335 L1157.7,331.7 L1159.6,328.9 L1160.5,325.7 L1161,322.5 L1161.3,318.8 L1163.9,315.9 L1165,312.5 L1167.9,310.8 L1169.8,307.8 L1172.9,306.4 L1176,305 L1179.5,304 L1181.9,301.4 L1184.2,298.7 L1187.5,297.5 L1188.9,294 L1190.7,290.8 L1192.5,287.5 L1195,282.5 L1197.8,284.9 L1200.7,287.2 L1205,287.1 L1207.5,290 L1211,289.9 L1213.6,292.2 L1217,292.3 L1219.9,293.8 L1222.5,296 L1225.9,298.2 L1228.4,301.2 L1230,305 L1229.4,308.5 L1230.8,312.1 L1229.2,315.5 L1227.8,318.9 L1229,322.5 L1228.7,325.8 L1225.8,327.9 L1225,331 L1224,334 L1221.5,336.5 L1217.3,336.2 L1215,339 L1216.1,341.7 L1218.6,343.5 L1220,346 L1223.3,344.3 L1224.2,340.2 L1228.2,339.2 L1230,336 L1233.6,336 L1236.3,332.9 L1240,333 L1240.9,336.8 L1243.3,339.8 L1246,342.5 L1245.3,346 L1247.6,349.1 L1246.8,352.6 L1247.2,356 L1249,359.1 L1249,362.5 L1249.3,365.8 L1248.4,368.7 L1246,371.1 L1245,374 L1242.4,375.9 L1240.7,378.9 L1237.5,380 L1235.9,383 L1236.2,386.7 L1233.8,389.4 L1232.5,392.5 L1230.2,395.7 L1228,399 L1231.6,400.2 L1235.1,401.9 L1237.5,405 L1240.5,406.5 L1243.7,406.6 L1246.9,406 L1250,406 L1253.4,403.8 L1257.5,404.3 L1261.6,404.7 L1265,402.5 L1268.8,401.7 L1272.2,400 L1275,396.7 L1279.1,396.7 L1282.5,395 L1285.7,392.8 L1290.1,393.3 L1292.4,389.2 L1296.2,388.2 L1300,387.5 L1303.5,387 L1305.5,383.5 L1308.7,382.5 L1311.7,381 L1315,380 L1318.5,378.6 L1320.9,376 L1324.1,374.3 L1326,371 L1325.9,367.8 L1327.5,365 L1325.5,362.3 L1325.4,359.1 L1325,356 L1328.3,356 L1331.3,354.8 L1334.7,355 L1337.5,353 L1340.7,354.1 L1344.4,352.8 L1347.6,354 L1351,354.1 L1354.3,354.8 L1357.5,356 L1361.1,355.8 L1364.5,354.4 L1368.2,354.7 L1371.2,351.8 L1375,352.5 L1378.4,351.9 L1380,348.4 L1383.6,348.3 L1386,346 L1387.5,343.3 L1385.6,340.1 L1387.5,337.5 L1386.4,334.2 L1385,331 L1388.4,330.1 L1389.1,325.8 L1392.5,325 L1394.9,322.8 L1397.5,321 L1399.8,318.6 L1401.9,316.1 L1404.4,313.9 L1407.5,312.5 L1410.5,310.2 L1413.8,308.4 L1417.5,307.5 L1494,307 L1493.9,303.4 L1495,300 L1498.6,300.3 L1502,299.6 L1505,297.5 L1508.5,295.6 L1512.5,295 L1513.5,290.9 L1516.2,288 L1519,285 L1520.6,282 L1519,278.6 L1521,275.7 L1521,272.5 L1521.2,269 L1523.2,266.3 L1524,263.1 L1526.5,260.6 L1527.5,257.5 L1529.7,254.6 L1533.1,252.8 L1535,249.6 L1537.3,246.7 L1539,243.3 L1543.2,242.3 L1545,239 L1547.8,240.3 L1548.3,243.3 L1550,245.5 L1554.2,245.8 L1557.8,244.1 L1561.1,241.7 L1565,241 L1567.4,244.1 L1571.6,244.4 L1574.2,247.2 L1577.5,249 L1578,285 L1580.2,287.2 L1582.2,289.5 L1585,291 L1586,294.8 L1586,298.6 L1586,302.5 L1588.9,303.7 L1590.7,306.9 L1594,307.5 L1593.8,311.3 L1595,315 L1592.1,316.9 L1588.4,317.3 L1585.5,319.2 L1582.5,321 L1579.6,322.7 L1576.3,323 L1573.5,325.1 L1570,325 L1567,327.1 L1563.8,328.8 L1560,329 L1556.7,327.8 L1555.2,324.4 L1552.5,322.5 L1549.9,325.4 L1548.3,328.7 L1547.5,332.5 L1545.5,335 L1541.7,335.2 L1540.3,338.5 L1537.5,340 L1534.2,340.7 L1531.1,342.2 L1528.2,343.8 L1525,345 L1522.6,347.1 L1520.1,349.3 L1519,352.5 L1516.3,355.5 L1514.6,359.2 L1512.5,362.5 L1509.8,364.7 L1509,368 L1508,370.5 L1510.2,373.1 L1513.3,374.5 L1511.1,376.3 L1507.7,376.3 L1506,379 L1503.4,381.7 L1506.7,383.2 L1509.7,385.2 L1513.1,387.5 L1514.2,391.5 L1513.8,394.6 L1516,396.9 L1518.7,398.7 L1522.4,399.6 L1525.8,397.8 L1528,394 L1526.7,389.7 L1521.3,389.3 L1526.7,389.7 L1528,392.9 L1529.4,396 L1529,403.2 L1522,403 L1518.2,403.8 L1515,405.9 L1512.7,403.5 L1509.7,402 L1507.1,404.6 L1503.4,405 L1499.6,404.6 L1496,406 L1493.3,408.6 L1490.1,410.9 L1488.8,414.7 L1486.4,417.5 L1483.9,419.7 L1480.3,420 L1477.8,422.2 L1475,424 L1470.9,424.2 L1467.9,427.8 L1463.6,427.2 L1460,429 L1456.1,428.5 L1452.9,431.4 L1449.2,432.5 L1445.3,432 L1441.6,432.3 L1438,433.5 L1436,435 L1438.8,438 L1438.1,441.6 L1438.2,445.3 L1438,449 L1436.9,452.5 L1434.3,455.2 L1432,458.1 L1431.7,462 L1429.5,464.6 L1427.6,467.5 L1424.1,469.1 L1423,472.6 L1421.1,476 L1417.8,478 L1416.2,475.4 L1415.1,472.4 L1412.5,470.5 L1411.6,467 L1409.9,463.9 L1408.1,460.9 L1406,458 L1402.5,455 L1404,458 L1405.6,461.1 L1405.7,464.9 L1409.8,466.7 L1410,470.5 L1412.1,473.9 L1413.9,477.4 L1415.7,481 L1414.7,484.6 L1415.6,488.4 L1414.6,492 L1413.9,495.9 L1411.7,499.1 L1410,502.5 L1407.6,505.4 L1405.8,508.7 L1402.9,511.3 L1401.8,515 L1399.9,518.3 L1398.7,522 L1395.6,524.5 L1394,528 L1393,532 L1394.5,534.9 L1396.7,537.5 L1396.5,541 L1397.6,544.1 L1399.2,547.1 L1398.5,550.6 L1399.7,553.7 L1400,557.6 L1401.9,560.8 L1404,564 L1403.3,567.9 L1406.4,571.1 L1406,575 L1403.7,577.4 L1402.5,580.3 L1401.8,583.5 L1399.5,585.8 L1396.4,586.8 L1394.2,589.2 L1391,590 L1388.2,591.8 L1385,592.5 L1381.2,593.7 L1377.6,595.3 L1373.9,596.6 L1370,597.5 L1366.3,599.1 L1363,601.4 L1360,604 L1358.4,607.6 L1354.8,609.5 L1352.5,612.5 L1349.4,614.7 L1347.5,618 L1343.8,619.7 L1339.8,617.9 L1336,619 L1334.1,622.4 L1330.5,623.8 L1327.5,626 L1325.6,629.2 L1324.3,632.8 L1321,635 L1320.4,638.6 L1317.5,641 L1314.7,642.9 L1313,646 L1310,647.7 L1307.5,650 L1304.9,652.7 L1301.1,653.5 L1297.5,654.5 L1295,657.5 L1292.2,659.1 L1290.8,662 L1287.3,662.9 L1286,666 L1284.9,669.1 L1283.6,672.1 L1281.7,674.7 L1280,677.5 L1277.2,680 L1277.3,683.9 L1276.1,687.1 L1274,690 L1272.5,693.3 L1271,696.5 L1270,700 L1269.6,703.4 L1270,706.7 L1271,710 L1271.3,713.6 L1272.8,716.9 L1273.5,720.5 L1272.7,724.3 L1274.9,727.5 L1275.7,731 L1276.1,734.8 L1278.4,737.9 L1280.5,741.1 L1280.5,745 L1281.3,748.7 L1282.8,752.1 L1283.6,755.7 L1285.8,759 L1287.3,762.6 L1288.9,766.1 L1288.5,770.4 L1290.4,773.8 L1291.6,777.5 L1292.1,781.4 L1293.3,785.1 L1295,788.6 L1297,792 L1297.2,795.6 L1297.8,799 L1298.8,802.4 L1300.1,805.6 L1300.9,809 L1303,812 L1303.7,815.5 L1302,819.1 L1302.6,822.6 L1304,826 L1302.6,829.5 L1302.1,833.1 L1301.9,836.7 L1302,840.4 L1301.8,844 L1300.2,847 L1297.5,849.4 L1297,853 L1295.3,855.8 L1292.3,857.4 L1290.4,860 L1287.1,859.4 L1284.6,862 L1281.4,862 L1278.3,859.9 L1276.4,856.9 L1274.4,853.9 L1272.3,851 L1270.1,848 L1267.1,845.5 L1265.5,842 L1263.6,838.7 L1262.2,835.3 L1262,831.5 L1261,828 L1258.5,825.5 L1257.6,822.2 L1256.5,819 L1253.9,816.1 L1253.5,812.1 L1251.7,808.7 L1249.7,805.5 L1247.8,802.8 L1248.8,799 L1246.3,796.5 L1244.8,793 L1245.6,788.9 L1243,785.7 L1242.8,781.9 L1241.7,778.3 L1242.3,774.4 L1242.6,770.4 L1242.2,766.4 L1243,762.5 L1243,759.2 L1241.8,756.3 L1240.6,753.4 L1238.4,751.4 L1236,749.7 L1233.8,747.8 L1231,745.1 L1229,741.7 L1227.5,738 L1224.7,735.3 L1222.9,732.5 L1221.3,729.6 L1218.4,727.8 L1215.7,726 L1206.6,726 L1203.1,725.9 L1201,729 L1198.2,730.4 L1195,731 L1190.9,730.6 L1187.7,733.2 L1184,734 L1182.7,730.6 L1181.9,726.9 L1179.4,724 L1176.4,722.8 L1174.1,720.9 L1172.6,718 L1169.7,717.1 L1166.5,716.8 L1163.5,716.2 L1161,714 L1157.4,712.9 L1153.7,712.9 L1150,712.6 L1145.6,712.4 L1142,711.6 L1138.4,710.6 L1136.6,705.5 L1135.4,708.7 L1135,712 L1134.6,715.9 L1133,719.6 L1127.6,718.7 L1127,712 L1125.9,708.6 L1125.5,705 L1125,708.6 L1123.5,712 L1124,720.5 L1119,718 L1116.9,716 L1109.7,716 L1106.7,715.2 L1103.7,715.5 L1100.7,715 L1097.6,715.9 L1094.6,717.2 L1091.7,718.5 L1096.2,721.4 L1097.4,724.2 L1098.9,726.8 L1097.6,730 L1094.4,731.3 L1091.1,733.4 L1089,736.6 L1090,741 L1092.4,744.3 L1096.2,745.6 L1100.1,746.7 L1102.5,750 L1100.9,752.5 L1100.7,755.5 L1097.1,755.7 L1093.5,756.4 L1096.2,751.9 L1093.5,749.1 L1090,747.4 L1086.4,746.3 L1084.6,742.9 L1079.2,742 L1078.3,747.4 L1077.1,751 L1073.8,752.8 L1071.5,750.9 L1069.1,749.1 L1066.6,747.4 L1065.3,750.1 L1061.9,750.4 L1060.4,752.8 L1056.9,751.5 L1055,748.3 L1054.1,745.2 L1052.1,742.9 L1049.6,741 L1048.3,738.5 L1046.8,736.2 L1044.2,734.8 L1040.8,733.8 L1037.9,731.7 L1034.2,732.5 L1030.8,734 L1029,738.4 L1020,738.5 L1016.8,738.8 L1014.9,735.8 L1012,735.5 L1008.2,735.8 L1004.5,735.6 L1001.3,732.9 L997.5,733 L994.7,735 L991.1,734.1 L987.8,733.9 L985,736 L981.2,736.9 L977.5,737.9 L973.5,738.2 L970,740 L967.5,742.1 L966.3,745 L965.5,748.3 L962.5,750 L958.6,751.6 L956.3,754.7 L953.9,757.9 L951,760.5 L947.4,761.7 L944.6,764.4 L941.2,766.1 L937.5,767 L935.3,769.9 L931.9,770.8 L928.8,772.1 L926,774 L924.5,777.2 L922,779.3 L919,781 L918.7,783.7 L919.1,786.7 L917,789 L915.6,791.8 L917,795.2 L915.5,798 L913.2,800.9 L913,804.6 L912,808 L913.2,810.7 L914.6,813.4 L914,816.5 L914.4,819.6 L916.8,822.2 L916.7,825.4 L917,828.5 L916.7,832.5 L918.4,835.8 L920.5,839 L917.2,839.9 L914.5,842 L912.1,840.8 L909.6,839.7 L907,839 L903.7,837.9 L900.4,837.2 L897,838 L893,837.4 L890.5,833.6 L886.5,833 L883.6,830 L879.6,829.4 L876,828 L874.5,824.8 L872.7,821.7 L873,818 L870.9,814.9 L868.4,812 L868,808 L868,804.9 L867.3,802 L867.2,798.9 L866,796 L864.7,792.8 L861.3,791.4 L860.2,788 L857.5,786 L856,782.6 L853.4,779.9 L850.1,777.8 L849,774 L848.8,770.6 L846.6,767.9 L845.2,765 L844,762 L843.2,758.1 L839.5,755.8 L837.5,752.5 L837,748.5 L835,745.4 L832.8,742.4 L830,740 L826.7,737.9 L823.4,735.9 L820,734 L816.4,732.5 L812.7,731.5 L808.8,731.3 L805,731 L802.2,731.4 L800,733 L797.5,734 L797.2,737.2 L794.2,739.1 L795,742.8 L792.5,745 L791.4,748.1 L788.6,749.9 L787.2,752.7 L785,755 L781.6,752.6 L777.5,752.5 L774.6,751 L772.5,748.5 L769.4,747.2 L768.1,743.7 L765,742.5 L762.2,740.3 L760.5,737 L758,734.5 L754.9,732.6 L752.5,730 L750.2,726.6 L751.3,722.1 L747.4,719.2 L747.5,715 L745.7,711.8 L741.8,710.7 L739.9,707.6 L737.4,705.1 L735,702.5 L732.3,700.2 L730.2,697.3 L727.9,694.6 L725.4,692.1 L721.6,690.9 L720,687.5 L717.7,685.2 L715.3,683.1 L715.1,679.1 L712.1,677.4 L710,675 L707.5,671.5 L707.5,677.5 L673.8,677.5 L673.8,690 L608.8,690 L525,657 L525,654 L474,656 L473.8,652.3 L471,650 L469,647 L469.2,643.1 L467.5,640 L465.7,637.2 L463.3,634.8 L461.1,632.3 L460,629 L457,627.1 L454.3,624.7 L450.6,624.1 L447.5,622.5 L445.9,620.3 L445.2,617.4 L442.5,616 L439.2,615.8 L436.1,614.7 L433.4,612.3 L430,612.5 L426.7,611.3 L424.1,609.3 L422.8,605.8 L420,604 L416.5,603.8 L413.1,602.2 L409.5,602.9 L405.9,603.5 L402.5,602.5 L400.3,600.4 L397.4,599.3 L395,597.5 L394,592.5 L393.6,589.3 L391.6,586.5 L390.5,583.4 L391,580 L389.8,576.7 L387.5,574.3 L383.8,573.2 L382.5,570 L379.5,567.7 L379.3,563.5 L377,560.7 L374.4,558.1 L372.5,555 L371.2,551.1 L369,547.8 L366,545 L367.5,541.5 L368.2,537.8 L367.5,534 L364.7,531.1 L360,530.9 L357.5,527.5 L356.9,523.6 L355.5,520 L353.2,517.2 L354.4,513.2 L353.1,510.1 L351.4,507.1 L350,504 L346.9,502.2 L344,500 L342.3,496.4 L339.2,493.7 L337.5,490 L336,486.9 L334.6,483.6 L330.4,482.4 L329.2,479 L327.5,476 L327.2,472.1 L324.3,469 L324,465 L323.2,461.9 L324.2,458.6 L323.1,455.6 L322.5,452.5 L320.1,450.4 L318.5,447.7 L316.5,445.2 L315,442.5 L313.7,439.2 L313.7,435.3 L311,432.5 L311.3,429.1 L312.5,426.1 L315.1,423.5 L315,420 L315.6,416.2 L316.7,412.6 L318,408.9 L317.5,405 L315.4,402.2 L314.7,399 L313.7,395.9 L313.8,392.5 L312.1,388.9 L311.1,385.2 L310.9,381.4 L311,377.5 L311.6,373.9 L310.8,370.6 L309,367.5 L310.5,364.2 L311,360.5 L312.7,357.2 L314.3,353.9 L314,350 L313.9,346.6 L315.7,343.4 L314.4,339.8 L315.6,336.6 L316.6,333.3 L317,330 L317.9,326.7 L317.1,323.2 L318.2,320 L318,316.5 L319.1,313.3 L320,310 L321.3,306.6 L320,302.9 L320.7,299.4 L321.9,296 L322,292.5 L320.8,289.4 L322.6,286.2 L320.7,283.2 L321,280 L319.9,277.1 L320,274 L319.5,265 L318.3,261.8 L318,258.4 L317.5,255 L320.7,253.9 L324,253 L321.3,252.6 L318.6,251.9 L316,251 L314.2,247.9 L313,244.6 L314.4,240.6 L312.5,237.5 L311.9,233.8 L310.2,230.6 L308,227.6 L307.8,223.7 L305,221 L303.3,218.4 L302.4,215.6 L303,212.5 L306.2,215 L310.2,215.1 L313.8,216.4 L317.4,217.5 L320.8,217.9 L324.1,218.9 L327.4,219.1 L330.8,219.8 L334.2,219.5 L337.6,219.8 L343,221 L344.5,218.2 L344.8,215.1 L345,212 L343.8,208.4 L341,206 L344,204.6 L346,202 L345.4,199Z"/>
<path d="M320,274 L324,274 L327.7,275.3 L331.4,275.3 L335.3,274.5 L339,275 L341.9,277 L343.6,280 L346,282.5 L347.3,284.9 L347.2,287.8 L349,290 L352,290.3 L354.7,291.6 L357.5,292.5 L360.7,291.6 L364.2,291.4 L366.9,289.1 L370,288 L373.3,288 L376.1,290 L379.3,290.2 L382.5,290.5 L385.5,289 L389,290.2 L392.2,289.7 L395,287.5 L398.3,287.8 L401.5,287.4 L404.3,285.1 L407.5,285 L410.8,284.9 L414,284.7 L417,283.3 L420,282 L423.1,281.4 L426.1,279.8 L429.3,280.3 L432.5,280 L476,279.5"/>
<path d="M475.5,196 L475.5,271 L477.5,276 L480.5,278 L481,282 L484,284 L485.4,287 L488,289 L487.7,292.1 L486,294.7 L485,297.5 L484.1,300.4 L482.6,303.1 L481.2,305.8 L481,309 L479.6,312.6 L477.4,315.6 L474,317.5 L471.4,320.3 L470.5,324 L472.4,326.4 L474,329 L478,331 L476.6,333.8 L478.1,337.3 L476,340 L475.5,392"/>
<path d="M313.8,392 L608.8,392"/>
<path d="M497.5,196 L497.5,225 L500.6,227.5 L502.5,231 L503,233.7 L504.2,236.2 L504.5,239 L507,241 L509.5,242.8 L513.1,243.2 L515,246 L518.6,247.9 L519.2,252.4 L523,254.2 L525,257.5 L528.9,257.9 L531.9,261.3 L536,261 L535.4,264.8 L533.7,268.5 L534,272.5 L534.5,282.5 L533.2,285 L531.5,287.3 L530.5,290 L533.9,291.4 L536,294.5 L539.1,292.7 L542.3,291 L544.5,288 L546.3,291.2 L547.5,294.7 L550,297.5 L550.8,300.8 L553.7,303.3 L553,307.2 L555,310 L557.3,312.2 L560.4,313.5 L562.5,316 L565.4,318.1 L564.9,322.2 L567.5,324.5 L570.6,323.5 L573.9,323.4 L577.2,323 L580,321 L583.4,321.1 L586.9,321.2 L590,319.5 L597.5,319 L599.8,316.8 L602.5,315 L604.3,318.6 L607.5,321 L608.8,320"/>
<path d="M608.8,308.2 L766.2,308.2"/>
<path d="M608.8,308.2 L608.8,420"/>
<path d="M608.8,420 L810,420"/>
<path d="M766.2,196 L766.2,420"/>
<path d="M409.5,392 L409.5,476.2 L527.5,584"/>
<path d="M542.5,392 L542.5,555 L540.1,557.3 L537.5,559.5 L533.6,559.2 L529.6,559.2 L526,557.5 L527.5,584 L527.3,587.1 L530.6,589.2 L530,592.5 L531.3,595 L531.6,598.1 L534,600 L537,601.7 L537.9,605.1 L540,607.5 L537.2,610.1 L536,614.1 L532.5,616 L532.2,619.1 L530.7,621.9 L530.8,625 L530,628 L528,630.7 L528.3,634.4 L526,637 L528.4,639.6 L530.4,642.4 L531,646 L530,651 L527.5,652.5 L525,654"/>
<path d="M542.5,531.2 L975,531.2"/>
<path d="M653.8,420 L653.8,690"/>
<path d="M810,420 L810,531.2"/>
<path d="M810,447.5 L957.5,447"/>
<path d="M788.8,531.2 L788.8,672"/>
<path d="M788.8,545 L857,545 L857,600"/>
<path d="M707.5,672 L788.8,672"/>
<path d="M766.2,281.2 L932.5,281.2"/>
<path d="M766.2,364.5 L890,364.5 L893.2,365.2 L895.3,367.9 L898.5,368.6 L901,370.5 L904.3,368.9 L908,369 L911.5,368.2 L915,367.5 L918.1,368.7 L921.3,369.9 L924.6,370.6 L927.5,372.5 L930.8,374.1 L932.8,377.3 L936,379"/>
<path d="M918.8,196 L918.7,199.9 L918.8,203.7 L920,207.4 L920.5,211.2 L921,215 L922.6,218.6 L922.1,223 L925.3,226.1 L926,230 L927.5,233.2 L927.6,236.6 L928.1,239.9 L928.3,243.3 L929,246.6 L928.8,250 L930.7,253.3 L930.8,256.9 L931.6,260.4 L931.5,264 L932.5,267.5 L933.7,270.5 L934.4,273.6 L934.3,276.8 L933.8,280 L931.1,282.9 L928.8,286.2 L926,289 L928.1,291.7 L930.5,293.9 L933.9,295.2 L936.2,297.5 L936.2,350 L932.5,352.5 L934.9,355.9 L935,360 L933.5,363.2 L932.6,366.5 L932.5,370 L934,372.9 L934.4,376.2 L936,379 L937.9,382.5 L937.5,386.8 L940,390 L940,393.4 L941.2,396.5 L941.7,399.8 L944,402.5 L945.9,405.6 L946.2,409.2 L947.5,412.5 L947.4,416.4 L947.9,420.1 L949.7,423.7 L950,427.5 L952.3,430.2 L952.1,433.9 L954.9,436.4 L955,440 L955.7,443.2 L957.5,446 L961.3,446.3 L963.8,449.1 L966.9,450.8 L970,452.5 L969.3,455.6 L966.7,457.5 L965,460 L967.5,462.5 L970.3,464.7 L971.7,468.3 L975,470 L975,531.2 L974.2,534.8 L974.3,538.2 L976.5,541.5 L976,545 L980,575 L981,602.5 L981,626"/>
<path d="M936.2,350 L1052.5,350"/>
<path d="M1030,260 L1028,262.5 L1028.8,266.3 L1026.9,270 L1026.8,273.7 L1027,277.5 L1024,279.4 L1021.5,282 L1017.5,282.4 L1015,285 L1014.9,288.3 L1016.5,291.3 L1017.2,294.4 L1018,297.5 L1017.5,315 L1021.1,316.6 L1024.6,318.3 L1027.1,321.4 L1030,324 L1032.8,326.4 L1036.8,327.4 L1038.5,331.3 L1042.5,332.2 L1045,335 L1047.5,337 L1049.8,339.2 L1049.4,343.4 L1052.5,345 L1052.6,348.5 L1053.1,351.9 L1055,355 L1054.3,358.6 L1055.7,362.5 L1054,366 L1056.5,368.6 L1058.3,371.7 L1061.3,373.9 L1062.5,377.5"/>
<path d="M1062.5,377.5 L1064.4,381 L1068.9,381.7 L1071,385 L1074.5,386.5 L1076,390 L1074,393.6 L1075,397.5 L1073.1,400.1 L1070.7,402.2 L1067.2,402.8 L1065,405 L1061.9,407.1 L1057.8,407.3 L1055,410 L1057.1,413 L1056.4,417.2 L1059,420 L1057.8,423.3 L1055.4,425.9 L1054,429 L1051,429.6 L1049.3,431.9 L1047.5,434 L1045.7,437.5 L1045.9,441.2 L1046,445 L1048.9,447.7 L1048.3,452.2 L1051,455 L1053.1,457.7 L1055.9,459.6 L1058.4,461.9 L1060,465 L1060.3,468.2 L1062.3,470.6 L1062.6,473.8 L1065,476 L1068,478.1 L1071.2,480 L1075,480 L1074.2,483.7 L1073.2,487.4 L1072.8,491.2 L1072.5,495 L1075.5,497 L1076.5,501 L1080,502.5 L1082.6,504.2 L1083.9,507.4 L1085.8,509.9 L1089,511 L1089.4,514 L1091.8,516.4 L1090.7,519.9 L1092.5,522.5 L1093.7,525.3 L1096.6,527 L1097.5,530 L1100,532.5 L1100,536 L1097.4,538.2 L1095.9,541.5 L1091.6,541.8 L1090,545 L1089.1,548.3 L1088.3,551.7 L1087.5,555 L1086.1,558.3 L1083.8,561 L1081.5,563.8 L1081,567.5 L1080.3,570.8 L1078.9,573.9 L1077,576.8 L1076,580 L1075.4,583.5 L1073.4,586.6 L1072.5,590 L1071.1,593.1 L1070.2,596.3 L1068.3,599.2 L1067.5,602.5 L1064.9,604.3 L1063.2,607.2 L1059.1,606.9 L1057.5,610 L1056.7,613.9 L1055.2,617.6 L1054,621.3 L1052.5,625 L1051.9,629 L1052.4,632.7 L1054.3,636.3 L1055,640 L1055.9,643.7 L1057.4,647.3 L1055.7,651.4 L1057.5,655 L1057.8,658.3 L1056.1,661.2 L1056.1,664.5 L1055,667.5 L1054,670.8 L1052.4,673.9 L1051.3,677.3 L1049,680 L1048.6,684 L1045.6,686.6 L1044,690 L1042.8,692.9 L1042.9,696 L1043,699 L1086.4,699 L1085.9,702.8 L1083.7,706 L1084.5,709.9 L1086.4,713.3 L1088.9,715.9 L1089,719.6"/>
<path d="M952.5,431 L1042.5,431 L1049,436 L1047,440"/>
<path d="M1062.5,377.5 L1127.5,377.5"/>
<path d="M1076,258.5 L1078.3,261.6 L1080,265 L1081.8,267.8 L1084.4,269.3 L1088,269.5 L1090,272 L1093.4,274.4 L1097.4,275.1 L1101.7,274.8 L1105,277.5 L1108.3,280 L1112.7,279.3 L1116.4,280.7 L1120,282.5 L1122.2,285.7 L1123.8,289.3 L1126,292.5 L1128.3,295.2 L1128,299 L1128.8,302.2 L1131,305 L1132.5,308"/>
<path d="M1135,400 L1135,465 L1133.6,468 L1134.6,471.4 L1134,474.5 L1132.5,477.5 L1133,481.3 L1134,485 L1132.8,488.9 L1128.8,490.8 L1126.6,493.9 L1125,497.5 L1125.7,500.9 L1123.2,503.6 L1123.1,506.9 L1122.5,510"/>
<path d="M1122.5,510 L1120,517.5 L1112.5,527.5 L1101,525 L1098,531"/>
<path d="M1122.5,510 L1125.3,507.3 L1128.7,505.7 L1132.5,505 L1135.5,506.3 L1139,506.1 L1142.2,506.9 L1145,509 L1148.1,506.9 L1151.1,504.8 L1153.9,502.3 L1157.5,501 L1160.9,501.2 L1164,503 L1167.5,502.5 L1169.2,499.2 L1171.8,496.8 L1174,494 L1176.9,491.9 L1180,490 L1181.6,486.6 L1186,486 L1187.5,482.5 L1189.8,480.8 L1193.1,481.5 L1195,479 L1194.4,475.6 L1196,472.5 L1198.7,474.5 L1202,474.2 L1205,475 L1208,477.5 L1211.4,479.4 L1215,481 L1218.9,481.1 L1222.7,481.7 L1226.1,483.8 L1230,484 L1233.2,482.4 L1236.5,481.6 L1240,482.5 L1241.3,485.8 L1243.7,488.4 L1246,491"/>
<path d="M1196,398.5 L1196,472.5"/>
<path d="M1137.5,398.5 L1228,398.5"/>
<path d="M1246,491 L1246.8,487.2 L1250,485 L1251.6,481.3 L1254.8,478.8 L1257.5,476 L1260.4,473.9 L1261.7,470.2 L1264.2,467.7 L1267.5,466 L1270.2,463.2 L1274.2,462.4 L1276.3,458.8 L1280,457.5 L1282.2,454.7 L1283.4,451.5 L1283.5,447.7 L1286,445 L1286.9,441.3 L1287.3,437.5 L1288,433.7 L1289,430 L1291,425"/>
<path d="M1292,390 L1292,454.5 L1402.5,454"/>
<path d="M1309,384 L1309,391.5 L1407.5,391.5"/>
<path d="M1407.5,391.5 L1409.6,394.7 L1411.5,397.9 L1413,401.5 L1416,404 L1417,407.7 L1420,410 L1417,412.7 L1416.3,416.9 L1414,420 L1412.2,423.1 L1413.2,426.7 L1412.5,430 L1414.9,432.4 L1417.3,434.8 L1418.1,438.3 L1420,441 L1418.3,444.4 L1415.5,446.8 L1412.5,449 L1409,450.4 L1405.5,451.6 L1402.5,454"/>
<path d="M1420,408 L1441.5,419.3"/>
<path d="M1401,456 L1401,490 L1414,490"/>
<path d="M1314,454.5 L1314,469"/>
<path d="M1314,469 L1317.5,467.5 L1320.2,466.2 L1322.4,464 L1325,462.5 L1328.6,462 L1331.2,458.9 L1335,459 L1338.1,459.1 L1340.9,457.6 L1344,457.5 L1347.2,459.9 L1351.2,461 L1354,464 L1356.3,465.7 L1358.5,467.5 L1360,470 L1362.8,471.9 L1364.5,475 L1367.6,476.7 L1370,479 L1367.5,481.2 L1367.3,484.4 L1367,487.6 L1365,490 L1367.3,492.1 L1369.9,493.8 L1373.1,494.8 L1375,497.5"/>
<path d="M1344,457.5 L1343.4,460.4 L1341.6,462.7 L1340,465 L1339.2,468.7 L1336.9,471.8 L1335,475 L1332.4,476.7 L1329.7,478.4 L1327.9,481.2 L1325,482.5 L1322.8,484.7 L1320.6,487 L1316.9,487.4 L1315,490 L1312.9,492.9 L1309.2,494.2 L1307.5,497.5 L1306.7,501.3 L1305,504.5 L1302.1,507 L1300,510 L1298.5,512.6 L1296,514.6 L1295,517.5 L1291.4,517.3 L1288.3,519.1 L1285,520 L1282.1,521.7 L1278.5,521.6 L1275.7,523.5 L1272.5,524.5 L1262.5,524"/>
<path d="M1246,491 L1246.5,502.5 L1254,515 L1262.5,524"/>
<path d="M1262.5,524 L1252.5,522.5 L1240,532.5 L1230,540 L1222.5,543"/>
<path d="M1090,545 L1124,545 L1124,542.5 L1265,543.5 L1395,543"/>
<path d="M976,545 L1077.5,545 L1077.5,552.5 L1072.5,559.5 L1085,559"/>
<path d="M1265,544 L1262.7,547 L1259.9,549.6 L1257.5,552.5 L1254,553.2 L1252.1,556.7 L1249.2,558.2 L1246.5,560.4 L1243.5,561.8 L1240,562.5 L1237.8,565.6 L1234.5,567 L1231,567.9 L1227.2,568.4 L1225,571.5 L1221.6,572.3 L1218.9,574.6 L1215.7,575.9 L1212.5,577 L1209.9,580 L1208.6,584 L1206,587"/>
<path d="M1077.5,587.5 L1230,587.5"/>
<path d="M1230,591 L1233.8,590.7 L1236.5,587.9 L1240.1,587 L1243.8,586.3 L1246.3,583.2 L1250,582.5 L1280,583 L1282,586 L1283.8,589.1 L1286,592 L1310,592.5 L1336,619"/>
<path d="M1230,587.5 L1230,591 L1232.2,593.6 L1233.9,596.6 L1235.7,599.5 L1237.5,602.5 L1240,605.1 L1241.6,608.4 L1244,611.1 L1247,613.4 L1248.1,616.9 L1250,620 L1253.6,622.1 L1255.9,625.2 L1258,628.5 L1258.9,632.9 L1262.5,635 L1264.5,638 L1266.4,641.1 L1267.5,644.7 L1269.5,647.7 L1272.5,650 L1273.6,653.2 L1275.8,655.9 L1276.2,659.4 L1277.5,662.5 L1279,664.8 L1278.6,668.1 L1281,670"/>
<path d="M1121,587.5 L1115,667.5 L1115,716"/>
<path d="M1177.5,587.5 L1187.5,642.5 L1189.6,645.5 L1189.4,649.1 L1191.1,652.2 L1190.1,656 L1191.6,659.2 L1192.5,662.5 L1193.1,666.3 L1192.4,669.8 L1189.7,672.9 L1190.7,676.7 L1189,680 L1188.6,683.4 L1189.3,686.7 L1190,690 L1189.3,693.4 L1190.4,696.7 L1191,700 L1191.8,702.6 L1193.3,704.9 L1194,707.5"/>
<path d="M1191,699.5 L1132,699.5 L1134,703 L1136.6,705.5"/>
<path d="M1194,707.5 L1254,712 L1255,717.5 L1259,705 L1269,707.5"/>
<path d="M990,643.8 L1053,644"/>
<path d="M857,600 L859.5,602.3 L862.5,604 L865.2,606.3 L868.8,606.4 L871.6,608.3 L875,609 L878.6,610.8 L882.5,610.1 L886.2,611.2 L890,611 L892.8,613.2 L895.8,615.2 L900,614.6 L902.5,617.5 L906.2,617.2 L909.2,620.4 L912.9,620.3 L916.6,619.6 L920,621 L923.4,622 L927.1,620.6 L930.5,621.5 L934,622 L937.5,622.5 L941,620.5 L944.7,619 L948.8,618.8 L952.5,617.5 L965,617.5 L968.1,620 L972,621.4 L975,624 L978.6,625.5 L982.5,626 L986,628.2 L990,627.5 L990,665 L992.6,667.8 L993.3,671.4 L994,675 L996.3,677.5 L995.9,681.2 L997.8,683.9 L999,686.9 L1000,690 L1000,702.5 L999.7,706.4 L997.2,709.8 L996.2,713.5 L996,717.5 L995.9,721.3 L994.5,724.9 L996.1,728.8 L995,732.5"/>
<path d="M1450,307.5 L1448.9,311.3 L1451.4,315 L1450.3,318.8 L1450.7,322.5 L1449.5,326.3 L1451,330 L1451.2,333.5 L1450.8,337 L1450.2,340.5 L1450.6,344 L1450,347.5 L1450.2,350.6 L1451.7,353 L1454,355 L1454,370.5 L1452.3,372.7 L1450.5,376.3 L1451.3,380.7 L1447.5,383.8 L1447.8,388 L1447.5,391.6 L1447.2,395.1 L1447.2,398.7 L1447.1,402.3 L1447,405.9 L1446,408.7 L1448.2,411.2 L1447.8,414 L1445.8,417 L1442.4,418.4"/>
<path d="M1494,307 L1494.2,310.6 L1490.7,313.1 L1492,317.1 L1490,320 L1487.2,322 L1484.7,324.3 L1482.7,327 L1481,330 L1480.3,333.9 L1478.9,337.6 L1476.6,341 L1476,345 L1473.7,348.1 L1473.5,351.9 L1472.9,355.5 L1472.3,359.1 L1471,362.5 L1470.6,365.2 L1469,367.7 L1469,370.5"/>
<path d="M1454,370.5 L1500,370.5 L1510,366"/>
<path d="M1505,297.5 L1506,330 L1507.5,355 L1512.5,362.5"/>
<path d="M1448.2,390.2 L1497.1,390.2"/>
<path d="M1486.8,390.2 L1486.8,409.5"/>
<path d="M1497.1,390.2 L1499,397.8"/>
<path d="M1069.3,721.5 L1072.1,719 L1075,716.5 L1082,717 L1083.1,719.6 L1084.6,722 L1081,726 L1074,725.5 L1072.3,722.8 L1069.3,721.5"/>
</g>
<g fill="none" stroke="#000" stroke-linejoin="round" stroke-linecap="round">
<path d="M340,205 L345,204 L346,209 L341,210 L340,206" stroke-width="6.5"/>
<path d="M347,197 L349,203 L353,204 L355,210 L356,218 L360,223 L358,230 L359,238 L357,245 L352,250 L346,252 L341,248 L340,241 L343,235 L348,231 L351,226 L352,219 L349,213 L347,208" stroke-width="5.5"/>
<path d="M352,222 L355,230 L354,240 L350,246 L345,246 L344,240 L348,236 L352,234" stroke-width="5.5"/>
<path d="M349,205 L352,212 L354,222" stroke-width="4.5"/>
<path d="M352,500 L357,499 L361,501 L358,505 L359,510 L363,515 L366,518 L361,517 L357,513 L355,507" stroke-width="4.5"/>
<path d="M1390,460 L1382.6,468 L1380.5,479 L1381.6,489.7 L1375,494 L1372,502.5 L1382.6,511 L1372,515 L1381.6,519.5 L1371,524 L1382.6,528 L1376,531 L1385.8,534.5 L1393,532" stroke-width="4"/>
<path d="M1375,494 L1363.5,489.7 L1367.7,481 L1361,472.6" stroke-width="4"/>
<path d="M1393,460 L1388,472.6 L1390,485.4 L1394.4,494 L1396.5,500 L1391,506.8 L1395.4,515 L1393,526" stroke-width="4"/>
<path d="M1375,550 L1382,553 L1390,550 L1397,553 L1393,558 L1386,556 L1380,560 L1388,563 L1396,566 L1392,570" stroke-width="4"/>
<path d="M1360,590 L1366,585 L1372,588 L1378,580 L1384,582 L1387,576 L1381,575 L1376,578 L1370,582 L1365,580" stroke-width="4"/>
<path d="M1241,780 L1246,784 L1249,788 L1245,792 L1241,788 L1243,784" stroke-width="5"/>
<path d="M1252,813 L1257,812 L1258,817 L1254,818" stroke-width="4"/>
<path d="M1277,858 L1283,857 L1285,861 L1280,863" stroke-width="5"/>
<path d="M1146,285 L1152,283 L1156,286 L1150,289" stroke-width="4"/>
<path d="M1178,304 L1183,303 L1184,310 L1180,313 L1179,308" stroke-width="4"/>
<path d="M968,733 L973,732 L974,738 L970,741" stroke-width="4"/>
<path d="M925,770 L930,765 L936,762 L941,760 L938,766 L931,769" stroke-width="4.5"/>
<path d="M911,786 L915,784 L916,789 L912,790" stroke-width="4.5"/>
<path d="M906,800 L912,799 L912,805 L907,805" stroke-width="4.5"/>
<path d="M1083,722 L1088,724 L1091,729 L1086,730 L1084,726" stroke-width="5.5"/>
<path d="M1522,410 L1526,409 L1529,411 L1527,413 L1523,412" stroke-width="4.5"/>
<path d="M1509,409 L1513,408 L1517,410 L1513,412" stroke-width="4.5"/>
<path d="M1494.5,401 L1498,399 L1502,402 L1500,406 L1496,407" stroke-width="5"/>
<path d="M1442.4,418.4 L1450,414.5 L1460.4,411.3 L1473.8,410.4 L1488,409.5 L1496,405.9" stroke-width="3.5"/>
<path d="M1432,432.5 L1445,427 L1460,420.5 L1474,414 L1480,415 L1486.4,417.5" stroke-width="3.5"/>
<path d="M1450,428 L1462,424 L1474,419 L1484,417" stroke-width="3.5"/>
<path d="M1161,714 L1166,716 L1172,718" stroke-width="4"/>
</g>
<text class="t" x="951" y="56.8" font-size="33.6" font-weight="bold" text-anchor="middle">Spodoptera litura: Degree day (DD) accumulation 04/20/2026</text>
<text class="t" x="951" y="107.8" font-size="27.15" text-anchor="middle">Maps and modeling 04/20/2026 by Oregon State University IPPC USPEST.ORG and</text>
<text class="t" x="951" y="139.5" font-size="27.15" text-anchor="middle">USDA-APHIS-PPQ; climate data from OSU PRISM Climate Group</text>
<text class="t" x="1639" y="408.9" font-size="26.3" font-weight="bold">Degree Days</text>
<rect x="1639" y="422" width="25.5" height="25.6" fill="#5E4FA2"/>
<text class="l" x="1676" y="441.6" font-size="20.2" letter-spacing="0.9">0-135</text>
<rect x="1639" y="447.55" width="25.5" height="25.6" fill="#3288BD"/>
<text class="l" x="1676" y="467.15" font-size="20.2" letter-spacing="0.9">135-270</text>
<rect x="1639" y="473.1" width="25.5" height="25.6" fill="#66C2A5"/>
<text class="l" x="1676" y="492.7" font-size="20.2" letter-spacing="0.9">270-405</text>
<rect x="1639" y="498.65" width="25.5" height="25.6" fill="#ABDDA4"/>
<text class="l" x="1676" y="518.25" font-size="20.2" letter-spacing="0.9">405-540</text>
<rect x="1639" y="524.2" width="25.5" height="25.6" fill="#E6F598"/>
<text class="l" x="1676" y="543.8" font-size="20.2" letter-spacing="0.9">540-675</text>
<rect x="1639" y="549.75" width="25.5" height="25.6" fill="#FEE08B"/>
<text class="l" x="1676" y="569.35" font-size="20.2" letter-spacing="0.9">675-810</text>
<rect x="1639" y="575.3" width="25.5" height="25.6" fill="#FDAE61"/>
<text class="l" x="1676" y="594.9" font-size="20.2" letter-spacing="0.9">810-945</text>
<rect x="1639" y="600.85" width="25.5" height="25.6" fill="#F46D43"/>
<text class="l" x="1676" y="620.45" font-size="20.2" letter-spacing="0.9">945-1080</text>
<rect x="1639" y="626.4" width="25.5" height="25.6" fill="#D53E4F"/>
<text class="l" x="1676" y="646" font-size="20.2" letter-spacing="0.9">1080-1220</text>
<rect x="1639" y="651.95" width="25.5" height="25.6" fill="#9E0142"/>
<text class="l" x="1676" y="671.55" font-size="20.2" letter-spacing="0.9">1220-1350</text>
</svg></body></html>
